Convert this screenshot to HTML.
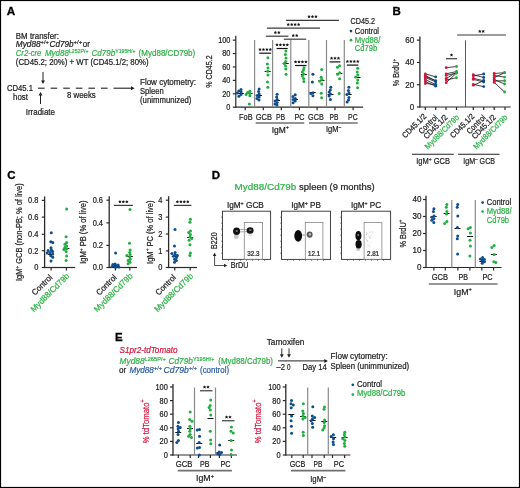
<!DOCTYPE html>
<html><head><meta charset="utf-8"><style>
html,body{margin:0;padding:0;background:#fff;}
svg{display:block;will-change:transform;}
text{font-family:"Liberation Sans", sans-serif;}
</style></head><body>
<svg width="520" height="488" viewBox="0 0 520 488" fill="#222" font-family='"Liberation Sans", sans-serif'>
<rect x="0.5" y="0.5" width="519" height="487" fill="#fff" stroke="#000" stroke-width="1.2"/>
<text transform="translate(6.80 14.80) scale(1.0200 1)" font-size="11.5" fill="#000" stroke="#000" stroke-width="0.3"><tspan font-weight="bold">A</tspan></text>
<text transform="translate(15.80 38.60) scale(0.9224 1)" font-size="8.6" stroke="#222" stroke-width="0.22"><tspan>BM transfer:</tspan></text>
<text transform="translate(15.80 47.20) scale(0.9607 1)" font-size="8.6" stroke="#222" stroke-width="0.22"><tspan font-style="italic">Myd88</tspan></text>
<text transform="translate(40.60 43.90) scale(0.9259 1)" font-size="6.2" stroke="#222" stroke-width="0.22"><tspan>+/+</tspan></text>
<text transform="translate(49.50 47.20) scale(0.9509 1)" font-size="8.6" stroke="#222" stroke-width="0.22"><tspan font-style="italic">Cd79b</tspan></text>
<text transform="translate(73.60 43.90) scale(0.9706 1)" font-size="6.2" stroke="#222" stroke-width="0.22"><tspan>+/+</tspan></text>
<text transform="translate(82.80 47.20) scale(0.9284 1)" font-size="8.6" stroke="#222" stroke-width="0.22"><tspan>or</tspan></text>
<text transform="translate(15.80 55.90) scale(0.8929 1)" font-size="8.6" fill="#2db246" stroke="#2db246" stroke-width="0.22"><tspan font-style="italic">Cr2-cre</tspan></text>
<text transform="translate(45.00 55.90) scale(0.9220 1)" font-size="8.6" fill="#2db246" stroke="#2db246" stroke-width="0.22"><tspan font-style="italic">Myd88</tspan></text>
<text transform="translate(68.80 52.60) scale(0.8465 1)" font-size="6.2" fill="#2db246" stroke="#2db246" stroke-width="0.22"><tspan>L252P/+</tspan></text>
<text transform="translate(91.50 55.90) scale(0.9391 1)" font-size="8.6" fill="#2db246" stroke="#2db246" stroke-width="0.22"><tspan font-style="italic">Cd79b</tspan></text>
<text transform="translate(115.30 52.60) scale(0.8312 1)" font-size="6.2" fill="#2db246" stroke="#2db246" stroke-width="0.22"><tspan>Y195H/+</tspan></text>
<text transform="translate(138.60 55.90) scale(0.9341 1)" font-size="8.6" fill="#2db246" stroke="#2db246" stroke-width="0.22"><tspan>(Myd88/CD79b)</tspan></text>
<text transform="translate(15.80 65.10) scale(0.9089 1)" font-size="8.6" stroke="#222" stroke-width="0.22"><tspan>(CD45.2; 20%) + WT (CD45.1/2; 80%)</tspan></text>
<line x1="43.00" y1="72.00" x2="43.00" y2="82.50" stroke="#222" stroke-width="1.0" />
<path d="M41.00,80.60 L43.00,84.00 L45.00,80.60 Z" fill="#222"/>
<line x1="40.50" y1="104.00" x2="40.50" y2="93.50" stroke="#222" stroke-width="1.0" />
<path d="M38.50,95.40 L40.50,92.00 L42.50,95.40 Z" fill="#222"/>
<text transform="translate(7.00 90.80) scale(0.8916 1)" font-size="8.6" stroke="#222" stroke-width="0.22"><tspan>CD45.1</tspan></text>
<text transform="translate(13.00 99.50) scale(0.9228 1)" font-size="8.6" stroke="#222" stroke-width="0.22"><tspan>host</tspan></text>
<line x1="38.00" y1="88.20" x2="44.60" y2="88.20" stroke="#222" stroke-width="1.1" />
<line x1="50.60" y1="88.20" x2="57.20" y2="88.20" stroke="#222" stroke-width="1.1" />
<line x1="63.20" y1="88.20" x2="69.80" y2="88.20" stroke="#222" stroke-width="1.1" />
<line x1="75.80" y1="88.20" x2="82.40" y2="88.20" stroke="#222" stroke-width="1.1" />
<line x1="88.40" y1="88.20" x2="95.00" y2="88.20" stroke="#222" stroke-width="1.1" />
<line x1="101.00" y1="88.20" x2="107.60" y2="88.20" stroke="#222" stroke-width="1.1" />
<line x1="113.50" y1="88.20" x2="133.10" y2="88.20" stroke="#222" stroke-width="1.1" />
<path d="M131.00,86.20 L134.60,88.20 L131.00,90.20 Z" fill="#222"/>
<text transform="translate(67.00 97.50) scale(0.9113 1)" font-size="8.6" stroke="#222" stroke-width="0.22"><tspan>8 weeks</tspan></text>
<text transform="translate(25.75 114.50) scale(0.9271 1)" font-size="8.6" stroke="#222" stroke-width="0.22"><tspan>Irradiate</tspan></text>
<text transform="translate(140.00 84.60) scale(0.9334 1)" font-size="8.6" stroke="#222" stroke-width="0.22"><tspan>Flow cytometry:</tspan></text>
<text transform="translate(140.00 94.00) scale(0.8869 1)" font-size="8.6" stroke="#222" stroke-width="0.22"><tspan>Spleen</tspan></text>
<text transform="translate(140.00 103.40) scale(0.9055 1)" font-size="8.6" stroke="#222" stroke-width="0.22"><tspan>(unimmunized)</tspan></text>
<line x1="235.80" y1="35.80" x2="235.80" y2="107.80" stroke="#2a2a2a" stroke-width="1.2" />
<line x1="232.80" y1="40.15" x2="235.80" y2="40.15" stroke="#2a2a2a" stroke-width="1.2" />
<text transform="translate(230.40 43.05) scale(0.8882 1)" font-size="8.3" text-anchor="end" stroke="#222" stroke-width="0.22"><tspan>100</tspan></text>
<line x1="232.80" y1="53.56" x2="235.80" y2="53.56" stroke="#2a2a2a" stroke-width="1.2" />
<text transform="translate(230.40 56.46) scale(0.8882 1)" font-size="8.3" text-anchor="end" stroke="#222" stroke-width="0.22"><tspan>80</tspan></text>
<line x1="232.80" y1="66.97" x2="235.80" y2="66.97" stroke="#2a2a2a" stroke-width="1.2" />
<text transform="translate(230.40 69.87) scale(0.8882 1)" font-size="8.3" text-anchor="end" stroke="#222" stroke-width="0.22"><tspan>60</tspan></text>
<line x1="232.80" y1="80.38" x2="235.80" y2="80.38" stroke="#2a2a2a" stroke-width="1.2" />
<text transform="translate(230.40 83.28) scale(0.8882 1)" font-size="8.3" text-anchor="end" stroke="#222" stroke-width="0.22"><tspan>40</tspan></text>
<line x1="232.80" y1="93.79" x2="235.80" y2="93.79" stroke="#2a2a2a" stroke-width="1.2" />
<text transform="translate(230.40 96.69) scale(0.8882 1)" font-size="8.3" text-anchor="end" stroke="#222" stroke-width="0.22"><tspan>20</tspan></text>
<line x1="232.80" y1="107.20" x2="235.80" y2="107.20" stroke="#2a2a2a" stroke-width="1.2" />
<text transform="translate(230.40 110.10) scale(0.8882 1)" font-size="8.3" text-anchor="end" stroke="#222" stroke-width="0.22"><tspan>0</tspan></text>
<line x1="235.20" y1="107.20" x2="363.10" y2="107.20" stroke="#2a2a2a" stroke-width="1.2" />
<line x1="245.20" y1="107.20" x2="245.20" y2="110.20" stroke="#2a2a2a" stroke-width="1.2" />
<line x1="263.30" y1="107.20" x2="263.30" y2="110.20" stroke="#2a2a2a" stroke-width="1.2" />
<line x1="281.30" y1="107.20" x2="281.30" y2="110.20" stroke="#2a2a2a" stroke-width="1.2" />
<line x1="299.40" y1="107.20" x2="299.40" y2="110.20" stroke="#2a2a2a" stroke-width="1.2" />
<line x1="317.10" y1="107.20" x2="317.10" y2="110.20" stroke="#2a2a2a" stroke-width="1.2" />
<line x1="335.00" y1="107.20" x2="335.00" y2="110.20" stroke="#2a2a2a" stroke-width="1.2" />
<line x1="353.10" y1="107.20" x2="353.10" y2="110.20" stroke="#2a2a2a" stroke-width="1.2" />
<line x1="254.60" y1="40.00" x2="254.60" y2="107.20" stroke="#8a8a8a" stroke-width="1.2" />
<line x1="272.60" y1="40.00" x2="272.60" y2="107.20" stroke="#8a8a8a" stroke-width="1.2" />
<line x1="290.80" y1="40.00" x2="290.80" y2="107.20" stroke="#8a8a8a" stroke-width="1.2" />
<line x1="308.80" y1="40.00" x2="308.80" y2="107.20" stroke="#8a8a8a" stroke-width="1.2" />
<line x1="326.50" y1="40.00" x2="326.50" y2="107.20" stroke="#8a8a8a" stroke-width="1.2" />
<line x1="344.30" y1="40.00" x2="344.30" y2="107.20" stroke="#8a8a8a" stroke-width="1.2" />
<text transform="translate(211.70 71.60) rotate(-90) scale(0.7644 1)" font-size="9.3" text-anchor="middle" stroke="#222" stroke-width="0.22"><tspan>% CD45.2</tspan></text>
<text transform="translate(239.10 119.70) scale(0.8559 1)" font-size="8.6" stroke="#222" stroke-width="0.22"><tspan>FoB</tspan></text>
<text transform="translate(255.70 119.70) scale(0.8693 1)" font-size="8.6" stroke="#222" stroke-width="0.22"><tspan>GCB</tspan></text>
<text transform="translate(276.00 119.70) scale(0.8019 1)" font-size="8.6" stroke="#222" stroke-width="0.22"><tspan>PB</tspan></text>
<text transform="translate(294.40 119.70) scale(0.8370 1)" font-size="8.6" stroke="#222" stroke-width="0.22"><tspan>PC</tspan></text>
<text transform="translate(308.10 119.70) scale(0.8398 1)" font-size="8.6" stroke="#222" stroke-width="0.22"><tspan>GCB</tspan></text>
<text transform="translate(329.60 119.70) scale(0.7757 1)" font-size="8.6" stroke="#222" stroke-width="0.22"><tspan>PB</tspan></text>
<text transform="translate(348.10 119.70) scale(0.8077 1)" font-size="8.6" stroke="#222" stroke-width="0.22"><tspan>PC</tspan></text>
<line x1="255.70" y1="123.00" x2="304.20" y2="123.00" stroke="#707070" stroke-width="1.7" />
<line x1="309.00" y1="123.00" x2="357.75" y2="123.00" stroke="#707070" stroke-width="1.7" />
<text transform="translate(271.70 132.60) scale(0.9365 1)" font-size="9" stroke="#222" stroke-width="0.22"><tspan>IgM</tspan><tspan font-size="5.76" dy="-3.24">+</tspan></text>
<text transform="translate(326.00 132.40) scale(0.8349 1)" font-size="9" stroke="#222" stroke-width="0.22"><tspan>IgM</tspan><tspan font-size="5.76" dy="-3.24">–</tspan></text>
<line x1="237.80" y1="93.50" x2="243.80" y2="93.50" stroke="#111" stroke-width="1.0" />
<circle cx="241.00" cy="89.60" r="1.5" fill="#0e4c8e"/>
<circle cx="238.80" cy="91.00" r="1.5" fill="#0e4c8e"/>
<circle cx="241.10" cy="92.00" r="1.5" fill="#0e4c8e"/>
<circle cx="237.30" cy="93.00" r="1.5" fill="#0e4c8e"/>
<circle cx="241.05" cy="94.50" r="1.5" fill="#0e4c8e"/>
<circle cx="238.90" cy="96.20" r="1.5" fill="#0e4c8e"/>
<line x1="246.60" y1="93.50" x2="252.60" y2="93.50" stroke="#111" stroke-width="1.0" />
<circle cx="249.80" cy="91.20" r="1.5" fill="#1fae3f"/>
<circle cx="247.60" cy="92.50" r="1.5" fill="#1fae3f"/>
<circle cx="249.90" cy="93.50" r="1.5" fill="#1fae3f"/>
<circle cx="246.10" cy="94.50" r="1.5" fill="#1fae3f"/>
<circle cx="249.85" cy="95.80" r="1.5" fill="#1fae3f"/>
<circle cx="249.40" cy="103.90" r="1.5" fill="#1fae3f"/>
<line x1="255.90" y1="95.50" x2="261.90" y2="95.50" stroke="#111" stroke-width="1.0" />
<circle cx="259.10" cy="89.00" r="1.5" fill="#0e4c8e"/>
<circle cx="258.60" cy="91.50" r="1.5" fill="#0e4c8e"/>
<circle cx="259.20" cy="94.00" r="1.5" fill="#0e4c8e"/>
<circle cx="257.10" cy="95.50" r="1.5" fill="#0e4c8e"/>
<circle cx="259.15" cy="97.00" r="1.5" fill="#0e4c8e"/>
<circle cx="257.00" cy="98.50" r="1.5" fill="#0e4c8e"/>
<circle cx="259.00" cy="100.00" r="1.5" fill="#0e4c8e"/>
<line x1="264.70" y1="71.50" x2="270.70" y2="71.50" stroke="#111" stroke-width="1.0" />
<circle cx="267.90" cy="57.80" r="1.5" fill="#1fae3f"/>
<circle cx="267.40" cy="63.90" r="1.5" fill="#1fae3f"/>
<circle cx="268.00" cy="68.00" r="1.5" fill="#1fae3f"/>
<circle cx="267.60" cy="71.20" r="1.5" fill="#1fae3f"/>
<circle cx="267.95" cy="75.00" r="1.5" fill="#1fae3f"/>
<circle cx="267.50" cy="81.90" r="1.5" fill="#1fae3f"/>
<circle cx="267.80" cy="87.30" r="1.5" fill="#1fae3f"/>
<line x1="273.90" y1="100.50" x2="279.90" y2="100.50" stroke="#111" stroke-width="1.0" />
<circle cx="277.10" cy="94.20" r="1.5" fill="#0e4c8e"/>
<circle cx="276.60" cy="97.00" r="1.5" fill="#0e4c8e"/>
<circle cx="277.20" cy="99.50" r="1.5" fill="#0e4c8e"/>
<circle cx="275.10" cy="101.00" r="1.5" fill="#0e4c8e"/>
<circle cx="277.15" cy="102.50" r="1.5" fill="#0e4c8e"/>
<circle cx="275.00" cy="104.00" r="1.5" fill="#0e4c8e"/>
<circle cx="277.00" cy="105.00" r="1.5" fill="#0e4c8e"/>
<line x1="282.70" y1="63.50" x2="288.70" y2="63.50" stroke="#111" stroke-width="1.0" />
<circle cx="285.90" cy="51.00" r="1.5" fill="#1fae3f"/>
<circle cx="285.40" cy="54.50" r="1.5" fill="#1fae3f"/>
<circle cx="286.00" cy="58.00" r="1.5" fill="#1fae3f"/>
<circle cx="285.60" cy="61.50" r="1.5" fill="#1fae3f"/>
<circle cx="284.25" cy="63.50" r="1.5" fill="#1fae3f"/>
<circle cx="285.50" cy="66.00" r="1.5" fill="#1fae3f"/>
<circle cx="285.80" cy="69.00" r="1.5" fill="#1fae3f"/>
<circle cx="286.00" cy="74.20" r="1.5" fill="#1fae3f"/>
<line x1="292.00" y1="99.50" x2="298.00" y2="99.50" stroke="#111" stroke-width="1.0" />
<circle cx="295.20" cy="94.70" r="1.5" fill="#0e4c8e"/>
<circle cx="293.00" cy="96.50" r="1.5" fill="#0e4c8e"/>
<circle cx="295.30" cy="98.50" r="1.5" fill="#0e4c8e"/>
<circle cx="293.20" cy="99.50" r="1.5" fill="#0e4c8e"/>
<circle cx="295.25" cy="101.00" r="1.5" fill="#0e4c8e"/>
<circle cx="293.10" cy="102.70" r="1.5" fill="#0e4c8e"/>
<line x1="300.80" y1="74.50" x2="306.80" y2="74.50" stroke="#111" stroke-width="1.0" />
<circle cx="304.00" cy="67.80" r="1.5" fill="#1fae3f"/>
<circle cx="303.50" cy="70.00" r="1.5" fill="#1fae3f"/>
<circle cx="302.40" cy="72.00" r="1.5" fill="#1fae3f"/>
<circle cx="303.70" cy="74.00" r="1.5" fill="#1fae3f"/>
<circle cx="302.35" cy="76.00" r="1.5" fill="#1fae3f"/>
<circle cx="303.60" cy="78.50" r="1.5" fill="#1fae3f"/>
<circle cx="303.90" cy="81.60" r="1.5" fill="#1fae3f"/>
<line x1="309.70" y1="92.50" x2="315.70" y2="92.50" stroke="#111" stroke-width="1.0" />
<circle cx="312.90" cy="74.20" r="1.5" fill="#0e4c8e"/>
<circle cx="312.40" cy="82.00" r="1.5" fill="#0e4c8e"/>
<circle cx="313.00" cy="92.70" r="1.5" fill="#0e4c8e"/>
<circle cx="310.90" cy="93.50" r="1.5" fill="#0e4c8e"/>
<circle cx="312.95" cy="95.80" r="1.5" fill="#0e4c8e"/>
<line x1="318.50" y1="80.50" x2="324.50" y2="80.50" stroke="#111" stroke-width="1.0" />
<circle cx="321.70" cy="69.60" r="1.5" fill="#1fae3f"/>
<circle cx="321.20" cy="77.30" r="1.5" fill="#1fae3f"/>
<circle cx="321.80" cy="79.60" r="1.5" fill="#1fae3f"/>
<circle cx="319.70" cy="81.20" r="1.5" fill="#1fae3f"/>
<circle cx="321.75" cy="84.00" r="1.5" fill="#1fae3f"/>
<circle cx="321.30" cy="93.20" r="1.5" fill="#1fae3f"/>
<circle cx="321.60" cy="97.80" r="1.5" fill="#1fae3f"/>
<line x1="327.60" y1="94.50" x2="333.60" y2="94.50" stroke="#111" stroke-width="1.0" />
<circle cx="330.80" cy="87.30" r="1.5" fill="#0e4c8e"/>
<circle cx="330.30" cy="90.00" r="1.5" fill="#0e4c8e"/>
<circle cx="329.20" cy="92.00" r="1.5" fill="#0e4c8e"/>
<circle cx="330.50" cy="94.00" r="1.5" fill="#0e4c8e"/>
<circle cx="329.15" cy="96.00" r="1.5" fill="#0e4c8e"/>
<circle cx="330.40" cy="99.60" r="1.5" fill="#0e4c8e"/>
<line x1="336.40" y1="73.50" x2="342.40" y2="73.50" stroke="#111" stroke-width="1.0" />
<circle cx="339.60" cy="65.80" r="1.5" fill="#1fae3f"/>
<circle cx="337.40" cy="67.30" r="1.5" fill="#1fae3f"/>
<circle cx="339.70" cy="72.70" r="1.5" fill="#1fae3f"/>
<circle cx="337.60" cy="74.20" r="1.5" fill="#1fae3f"/>
<circle cx="339.65" cy="78.80" r="1.5" fill="#1fae3f"/>
<circle cx="339.20" cy="93.50" r="1.5" fill="#1fae3f"/>
<line x1="345.70" y1="94.50" x2="351.70" y2="94.50" stroke="#111" stroke-width="1.0" />
<circle cx="348.90" cy="87.30" r="1.5" fill="#0e4c8e"/>
<circle cx="348.40" cy="90.50" r="1.5" fill="#0e4c8e"/>
<circle cx="349.00" cy="93.00" r="1.5" fill="#0e4c8e"/>
<circle cx="346.90" cy="94.50" r="1.5" fill="#0e4c8e"/>
<circle cx="348.95" cy="97.50" r="1.5" fill="#0e4c8e"/>
<circle cx="348.50" cy="100.00" r="1.5" fill="#0e4c8e"/>
<circle cx="347.10" cy="102.00" r="1.5" fill="#0e4c8e"/>
<line x1="354.50" y1="77.50" x2="360.50" y2="77.50" stroke="#111" stroke-width="1.0" />
<circle cx="357.70" cy="68.30" r="1.5" fill="#1fae3f"/>
<circle cx="357.20" cy="72.00" r="1.5" fill="#1fae3f"/>
<circle cx="357.80" cy="75.00" r="1.5" fill="#1fae3f"/>
<circle cx="355.70" cy="77.00" r="1.5" fill="#1fae3f"/>
<circle cx="357.75" cy="80.00" r="1.5" fill="#1fae3f"/>
<circle cx="357.30" cy="83.00" r="1.5" fill="#1fae3f"/>
<circle cx="357.60" cy="87.70" r="1.5" fill="#1fae3f"/>
<line x1="286.10" y1="20.30" x2="338.90" y2="20.30" stroke="#3a3a3a" stroke-width="1.2" />
<path d="M309.05,16.70L309.05,15.60M309.05,16.70L310.10,16.36M309.05,16.70L309.70,17.59M309.05,16.70L308.40,17.59M309.05,16.70L308.00,16.36" stroke="#222" stroke-width="0.75" stroke-linecap="round" fill="none"/><circle cx="309.05" cy="16.70" r="0.85" fill="#1a1a1a"/>
<path d="M312.50,16.70L312.50,15.60M312.50,16.70L313.55,16.36M312.50,16.70L313.15,17.59M312.50,16.70L311.85,17.59M312.50,16.70L311.45,16.36" stroke="#222" stroke-width="0.75" stroke-linecap="round" fill="none"/><circle cx="312.50" cy="16.70" r="0.85" fill="#1a1a1a"/>
<path d="M315.95,16.70L315.95,15.60M315.95,16.70L317.00,16.36M315.95,16.70L316.60,17.59M315.95,16.70L315.30,17.59M315.95,16.70L314.90,16.36" stroke="#222" stroke-width="0.75" stroke-linecap="round" fill="none"/><circle cx="315.95" cy="16.70" r="0.85" fill="#1a1a1a"/>
<line x1="266.90" y1="28.20" x2="320.00" y2="28.20" stroke="#3a3a3a" stroke-width="1.2" />
<path d="M288.27,24.60L288.27,23.50M288.27,24.60L289.32,24.26M288.27,24.60L288.92,25.49M288.27,24.60L287.63,25.49M288.27,24.60L287.23,24.26" stroke="#222" stroke-width="0.75" stroke-linecap="round" fill="none"/><circle cx="288.27" cy="24.60" r="0.85" fill="#1a1a1a"/>
<path d="M291.72,24.60L291.72,23.50M291.72,24.60L292.77,24.26M291.72,24.60L292.37,25.49M291.72,24.60L291.08,25.49M291.72,24.60L290.68,24.26" stroke="#222" stroke-width="0.75" stroke-linecap="round" fill="none"/><circle cx="291.72" cy="24.60" r="0.85" fill="#1a1a1a"/>
<path d="M295.17,24.60L295.17,23.50M295.17,24.60L296.22,24.26M295.17,24.60L295.82,25.49M295.17,24.60L294.53,25.49M295.17,24.60L294.13,24.26" stroke="#222" stroke-width="0.75" stroke-linecap="round" fill="none"/><circle cx="295.17" cy="24.60" r="0.85" fill="#1a1a1a"/>
<path d="M298.62,24.60L298.62,23.50M298.62,24.60L299.67,24.26M298.62,24.60L299.27,25.49M298.62,24.60L297.98,25.49M298.62,24.60L297.58,24.26" stroke="#222" stroke-width="0.75" stroke-linecap="round" fill="none"/><circle cx="298.62" cy="24.60" r="0.85" fill="#1a1a1a"/>
<line x1="265.80" y1="36.20" x2="288.40" y2="36.20" stroke="#3a3a3a" stroke-width="1.2" />
<path d="M275.38,32.60L275.38,31.50M275.38,32.60L276.42,32.26M275.38,32.60L276.02,33.49M275.38,32.60L274.73,33.49M275.38,32.60L274.33,32.26" stroke="#222" stroke-width="0.75" stroke-linecap="round" fill="none"/><circle cx="275.38" cy="32.60" r="0.85" fill="#1a1a1a"/>
<path d="M278.82,32.60L278.82,31.50M278.82,32.60L279.87,32.26M278.82,32.60L279.47,33.49M278.82,32.60L278.18,33.49M278.82,32.60L277.78,32.26" stroke="#222" stroke-width="0.75" stroke-linecap="round" fill="none"/><circle cx="278.82" cy="32.60" r="0.85" fill="#1a1a1a"/>
<line x1="283.80" y1="39.20" x2="306.20" y2="39.20" stroke="#3a3a3a" stroke-width="1.2" />
<path d="M293.27,35.60L293.27,34.50M293.27,35.60L294.32,35.26M293.27,35.60L293.92,36.49M293.27,35.60L292.63,36.49M293.27,35.60L292.23,35.26" stroke="#222" stroke-width="0.75" stroke-linecap="round" fill="none"/><circle cx="293.27" cy="35.60" r="0.85" fill="#1a1a1a"/>
<path d="M296.72,35.60L296.72,34.50M296.72,35.60L297.77,35.26M296.72,35.60L297.37,36.49M296.72,35.60L296.08,36.49M296.72,35.60L295.68,35.26" stroke="#222" stroke-width="0.75" stroke-linecap="round" fill="none"/><circle cx="296.72" cy="35.60" r="0.85" fill="#1a1a1a"/>
<line x1="259.20" y1="53.20" x2="271.20" y2="53.20" stroke="#111" stroke-width="1.2" />
<path d="M260.02,49.60L260.02,48.50M260.02,49.60L261.07,49.26M260.02,49.60L260.67,50.49M260.02,49.60L259.38,50.49M260.02,49.60L258.98,49.26" stroke="#222" stroke-width="0.75" stroke-linecap="round" fill="none"/><circle cx="260.02" cy="49.60" r="0.85" fill="#1a1a1a"/>
<path d="M263.47,49.60L263.47,48.50M263.47,49.60L264.52,49.26M263.47,49.60L264.12,50.49M263.47,49.60L262.83,50.49M263.47,49.60L262.43,49.26" stroke="#222" stroke-width="0.75" stroke-linecap="round" fill="none"/><circle cx="263.47" cy="49.60" r="0.85" fill="#1a1a1a"/>
<path d="M266.92,49.60L266.92,48.50M266.92,49.60L267.97,49.26M266.92,49.60L267.57,50.49M266.92,49.60L266.28,50.49M266.92,49.60L265.88,49.26" stroke="#222" stroke-width="0.75" stroke-linecap="round" fill="none"/><circle cx="266.92" cy="49.60" r="0.85" fill="#1a1a1a"/>
<path d="M270.38,49.60L270.38,48.50M270.38,49.60L271.42,49.26M270.38,49.60L271.02,50.49M270.38,49.60L269.73,50.49M270.38,49.60L269.33,49.26" stroke="#222" stroke-width="0.75" stroke-linecap="round" fill="none"/><circle cx="270.38" cy="49.60" r="0.85" fill="#1a1a1a"/>
<line x1="276.60" y1="48.50" x2="287.70" y2="48.50" stroke="#111" stroke-width="1.2" />
<path d="M276.97,44.90L276.97,43.80M276.97,44.90L278.02,44.56M276.97,44.90L277.62,45.79M276.97,44.90L276.33,45.79M276.97,44.90L275.93,44.56" stroke="#222" stroke-width="0.75" stroke-linecap="round" fill="none"/><circle cx="276.97" cy="44.90" r="0.85" fill="#1a1a1a"/>
<path d="M280.42,44.90L280.42,43.80M280.42,44.90L281.47,44.56M280.42,44.90L281.07,45.79M280.42,44.90L279.78,45.79M280.42,44.90L279.38,44.56" stroke="#222" stroke-width="0.75" stroke-linecap="round" fill="none"/><circle cx="280.42" cy="44.90" r="0.85" fill="#1a1a1a"/>
<path d="M283.87,44.90L283.87,43.80M283.87,44.90L284.92,44.56M283.87,44.90L284.52,45.79M283.87,44.90L283.23,45.79M283.87,44.90L282.83,44.56" stroke="#222" stroke-width="0.75" stroke-linecap="round" fill="none"/><circle cx="283.87" cy="44.90" r="0.85" fill="#1a1a1a"/>
<path d="M287.32,44.90L287.32,43.80M287.32,44.90L288.37,44.56M287.32,44.90L287.97,45.79M287.32,44.90L286.68,45.79M287.32,44.90L286.28,44.56" stroke="#222" stroke-width="0.75" stroke-linecap="round" fill="none"/><circle cx="287.32" cy="44.90" r="0.85" fill="#1a1a1a"/>
<line x1="295.00" y1="65.50" x2="306.50" y2="65.50" stroke="#111" stroke-width="1.2" />
<path d="M295.57,61.90L295.57,60.80M295.57,61.90L296.62,61.56M295.57,61.90L296.22,62.79M295.57,61.90L294.93,62.79M295.57,61.90L294.53,61.56" stroke="#222" stroke-width="0.75" stroke-linecap="round" fill="none"/><circle cx="295.57" cy="61.90" r="0.85" fill="#1a1a1a"/>
<path d="M299.02,61.90L299.02,60.80M299.02,61.90L300.07,61.56M299.02,61.90L299.67,62.79M299.02,61.90L298.38,62.79M299.02,61.90L297.98,61.56" stroke="#222" stroke-width="0.75" stroke-linecap="round" fill="none"/><circle cx="299.02" cy="61.90" r="0.85" fill="#1a1a1a"/>
<path d="M302.47,61.90L302.47,60.80M302.47,61.90L303.52,61.56M302.47,61.90L303.12,62.79M302.47,61.90L301.83,62.79M302.47,61.90L301.43,61.56" stroke="#222" stroke-width="0.75" stroke-linecap="round" fill="none"/><circle cx="302.47" cy="61.90" r="0.85" fill="#1a1a1a"/>
<path d="M305.93,61.90L305.93,60.80M305.93,61.90L306.97,61.56M305.93,61.90L306.57,62.79M305.93,61.90L305.28,62.79M305.93,61.90L304.88,61.56" stroke="#222" stroke-width="0.75" stroke-linecap="round" fill="none"/><circle cx="305.93" cy="61.90" r="0.85" fill="#1a1a1a"/>
<line x1="329.60" y1="61.90" x2="340.40" y2="61.90" stroke="#111" stroke-width="1.2" />
<path d="M331.55,58.30L331.55,57.20M331.55,58.30L332.60,57.96M331.55,58.30L332.20,59.19M331.55,58.30L330.90,59.19M331.55,58.30L330.50,57.96" stroke="#222" stroke-width="0.75" stroke-linecap="round" fill="none"/><circle cx="331.55" cy="58.30" r="0.85" fill="#1a1a1a"/>
<path d="M335.00,58.30L335.00,57.20M335.00,58.30L336.05,57.96M335.00,58.30L335.65,59.19M335.00,58.30L334.35,59.19M335.00,58.30L333.95,57.96" stroke="#222" stroke-width="0.75" stroke-linecap="round" fill="none"/><circle cx="335.00" cy="58.30" r="0.85" fill="#1a1a1a"/>
<path d="M338.45,58.30L338.45,57.20M338.45,58.30L339.50,57.96M338.45,58.30L339.10,59.19M338.45,58.30L337.80,59.19M338.45,58.30L337.40,57.96" stroke="#222" stroke-width="0.75" stroke-linecap="round" fill="none"/><circle cx="338.45" cy="58.30" r="0.85" fill="#1a1a1a"/>
<line x1="346.90" y1="65.10" x2="358.30" y2="65.10" stroke="#111" stroke-width="1.2" />
<path d="M347.43,61.50L347.43,60.40M347.43,61.50L348.47,61.16M347.43,61.50L348.07,62.39M347.43,61.50L346.78,62.39M347.43,61.50L346.38,61.16" stroke="#222" stroke-width="0.75" stroke-linecap="round" fill="none"/><circle cx="347.43" cy="61.50" r="0.85" fill="#1a1a1a"/>
<path d="M350.88,61.50L350.88,60.40M350.88,61.50L351.92,61.16M350.88,61.50L351.52,62.39M350.88,61.50L350.23,62.39M350.88,61.50L349.83,61.16" stroke="#222" stroke-width="0.75" stroke-linecap="round" fill="none"/><circle cx="350.88" cy="61.50" r="0.85" fill="#1a1a1a"/>
<path d="M354.32,61.50L354.32,60.40M354.32,61.50L355.37,61.16M354.32,61.50L354.97,62.39M354.32,61.50L353.68,62.39M354.32,61.50L353.28,61.16" stroke="#222" stroke-width="0.75" stroke-linecap="round" fill="none"/><circle cx="354.32" cy="61.50" r="0.85" fill="#1a1a1a"/>
<path d="M357.78,61.50L357.78,60.40M357.78,61.50L358.82,61.16M357.78,61.50L358.42,62.39M357.78,61.50L357.13,62.39M357.78,61.50L356.73,61.16" stroke="#222" stroke-width="0.75" stroke-linecap="round" fill="none"/><circle cx="357.78" cy="61.50" r="0.85" fill="#1a1a1a"/>
<text transform="translate(350.60 23.80) scale(0.8436 1)" font-size="8.6" stroke="#222" stroke-width="0.22"><tspan>CD45.2</tspan></text>
<circle cx="351.00" cy="31.10" r="1.35" fill="#0e4c8e"/>
<text transform="translate(354.80 33.65) scale(0.8729 1)" font-size="8.6" stroke="#222" stroke-width="0.22"><tspan>Control</tspan></text>
<circle cx="351.00" cy="40.20" r="1.35" fill="#1fae3f"/>
<text transform="translate(354.80 42.65) scale(0.9077 1)" font-size="8.6" fill="#2db246" stroke="#2db246" stroke-width="0.22"><tspan>Myd88/</tspan></text>
<text transform="translate(354.80 51.00) scale(0.8839 1)" font-size="8.6" fill="#2db246" stroke="#2db246" stroke-width="0.22"><tspan>Cd79b</tspan></text>
<text transform="translate(392.60 14.60)" font-size="11.5" fill="#000" stroke="#000" stroke-width="0.3"><tspan font-weight="bold">B</tspan></text>
<line x1="419.90" y1="36.60" x2="419.90" y2="107.60" stroke="#2a2a2a" stroke-width="1.3" />
<line x1="416.90" y1="40.16" x2="419.90" y2="40.16" stroke="#2a2a2a" stroke-width="1.2" />
<text transform="translate(414.20 43.06) scale(0.9748 1)" font-size="8.3" text-anchor="end" stroke="#222" stroke-width="0.22"><tspan>60</tspan></text>
<line x1="416.90" y1="62.44" x2="419.90" y2="62.44" stroke="#2a2a2a" stroke-width="1.2" />
<text transform="translate(414.20 65.34) scale(0.9748 1)" font-size="8.3" text-anchor="end" stroke="#222" stroke-width="0.22"><tspan>40</tspan></text>
<line x1="416.90" y1="84.72" x2="419.90" y2="84.72" stroke="#2a2a2a" stroke-width="1.2" />
<text transform="translate(414.20 87.62) scale(0.9748 1)" font-size="8.3" text-anchor="end" stroke="#222" stroke-width="0.22"><tspan>20</tspan></text>
<line x1="416.90" y1="107.00" x2="419.90" y2="107.00" stroke="#2a2a2a" stroke-width="1.2" />
<text transform="translate(414.20 109.90) scale(0.9748 1)" font-size="8.3" text-anchor="end" stroke="#222" stroke-width="0.22"><tspan>0</tspan></text>
<line x1="419.30" y1="107.00" x2="510.70" y2="107.00" stroke="#2a2a2a" stroke-width="1.2" />
<line x1="425.30" y1="107.00" x2="425.30" y2="110.00" stroke="#2a2a2a" stroke-width="1.2" />
<line x1="435.70" y1="107.00" x2="435.70" y2="110.00" stroke="#2a2a2a" stroke-width="1.2" />
<line x1="446.00" y1="107.00" x2="446.00" y2="110.00" stroke="#2a2a2a" stroke-width="1.2" />
<line x1="456.50" y1="107.00" x2="456.50" y2="110.00" stroke="#2a2a2a" stroke-width="1.2" />
<line x1="473.30" y1="107.00" x2="473.30" y2="110.00" stroke="#2a2a2a" stroke-width="1.2" />
<line x1="483.70" y1="107.00" x2="483.70" y2="110.00" stroke="#2a2a2a" stroke-width="1.2" />
<line x1="494.20" y1="107.00" x2="494.20" y2="110.00" stroke="#2a2a2a" stroke-width="1.2" />
<line x1="505.00" y1="107.00" x2="505.00" y2="110.00" stroke="#2a2a2a" stroke-width="1.2" />
<line x1="465.50" y1="40.30" x2="465.50" y2="107.00" stroke="#444" stroke-width="0.9" />
<text transform="translate(399.30 72.50) rotate(-90) scale(0.7686 1)" font-size="9.3" text-anchor="middle" stroke="#222" stroke-width="0.22"><tspan>% BrdU</tspan><tspan font-size="5.95" dy="-3.35">+</tspan></text>
<line x1="446.00" y1="58.70" x2="457.00" y2="58.70" stroke="#3a3a3a" stroke-width="1.2" />
<path d="M451.50,55.10L451.50,54.00M451.50,55.10L452.55,54.76M451.50,55.10L452.15,55.99M451.50,55.10L450.85,55.99M451.50,55.10L450.45,54.76" stroke="#222" stroke-width="0.75" stroke-linecap="round" fill="none"/><circle cx="451.50" cy="55.10" r="0.85" fill="#1a1a1a"/>
<line x1="457.10" y1="35.00" x2="505.90" y2="35.00" stroke="#3a3a3a" stroke-width="1.2" />
<path d="M479.77,31.40L479.77,30.30M479.77,31.40L480.82,31.06M479.77,31.40L480.42,32.29M479.77,31.40L479.13,32.29M479.77,31.40L478.73,31.06" stroke="#222" stroke-width="0.75" stroke-linecap="round" fill="none"/><circle cx="479.77" cy="31.40" r="0.85" fill="#1a1a1a"/>
<path d="M483.22,31.40L483.22,30.30M483.22,31.40L484.27,31.06M483.22,31.40L483.87,32.29M483.22,31.40L482.58,32.29M483.22,31.40L482.18,31.06" stroke="#222" stroke-width="0.75" stroke-linecap="round" fill="none"/><circle cx="483.22" cy="31.40" r="0.85" fill="#1a1a1a"/>
<line x1="425.30" y1="73.80" x2="435.70" y2="76.90" stroke="#111" stroke-width="0.8" />
<line x1="425.30" y1="75.50" x2="435.70" y2="80.80" stroke="#111" stroke-width="0.8" />
<line x1="425.30" y1="77.50" x2="435.70" y2="81.90" stroke="#111" stroke-width="0.8" />
<line x1="425.30" y1="79.50" x2="435.70" y2="84.60" stroke="#111" stroke-width="0.8" />
<line x1="425.30" y1="81.50" x2="435.70" y2="86.20" stroke="#111" stroke-width="0.8" />
<line x1="425.30" y1="83.50" x2="435.70" y2="84.60" stroke="#111" stroke-width="0.8" />
<line x1="425.30" y1="76.50" x2="435.70" y2="80.80" stroke="#111" stroke-width="0.8" />
<circle cx="425.30" cy="73.80" r="1.4" fill="#d3143c"/>
<circle cx="435.70" cy="76.90" r="1.4" fill="#0e4c8e"/>
<circle cx="425.30" cy="75.50" r="1.4" fill="#d3143c"/>
<circle cx="435.70" cy="80.80" r="1.4" fill="#0e4c8e"/>
<circle cx="425.30" cy="77.50" r="1.4" fill="#d3143c"/>
<circle cx="435.70" cy="81.90" r="1.4" fill="#0e4c8e"/>
<circle cx="425.30" cy="79.50" r="1.4" fill="#d3143c"/>
<circle cx="435.70" cy="84.60" r="1.4" fill="#0e4c8e"/>
<circle cx="425.30" cy="81.50" r="1.4" fill="#d3143c"/>
<circle cx="435.70" cy="86.20" r="1.4" fill="#0e4c8e"/>
<circle cx="425.30" cy="83.50" r="1.4" fill="#d3143c"/>
<circle cx="435.70" cy="84.60" r="1.4" fill="#0e4c8e"/>
<circle cx="425.30" cy="76.50" r="1.4" fill="#d3143c"/>
<circle cx="435.70" cy="80.80" r="1.4" fill="#0e4c8e"/>
<line x1="446.20" y1="67.70" x2="456.50" y2="66.50" stroke="#111" stroke-width="0.8" />
<line x1="446.20" y1="73.80" x2="456.50" y2="71.50" stroke="#111" stroke-width="0.8" />
<line x1="446.20" y1="75.40" x2="456.50" y2="73.10" stroke="#111" stroke-width="0.8" />
<line x1="446.20" y1="78.50" x2="456.50" y2="72.30" stroke="#111" stroke-width="0.8" />
<line x1="446.20" y1="80.00" x2="456.50" y2="77.70" stroke="#111" stroke-width="0.8" />
<line x1="446.20" y1="82.70" x2="456.50" y2="73.10" stroke="#111" stroke-width="0.8" />
<circle cx="446.20" cy="67.70" r="1.4" fill="#d3143c"/>
<circle cx="456.50" cy="66.50" r="1.4" fill="#1fae3f"/>
<circle cx="446.20" cy="73.80" r="1.4" fill="#d3143c"/>
<circle cx="456.50" cy="71.50" r="1.4" fill="#1fae3f"/>
<circle cx="446.20" cy="75.40" r="1.4" fill="#d3143c"/>
<circle cx="456.50" cy="73.10" r="1.4" fill="#1fae3f"/>
<circle cx="446.20" cy="78.50" r="1.4" fill="#d3143c"/>
<circle cx="456.50" cy="72.30" r="1.4" fill="#1fae3f"/>
<circle cx="446.20" cy="80.00" r="1.4" fill="#d3143c"/>
<circle cx="456.50" cy="77.70" r="1.4" fill="#1fae3f"/>
<circle cx="446.20" cy="82.70" r="1.4" fill="#d3143c"/>
<circle cx="456.50" cy="73.10" r="1.4" fill="#1fae3f"/>
<line x1="473.30" y1="74.70" x2="483.70" y2="77.50" stroke="#111" stroke-width="0.8" />
<line x1="473.30" y1="75.90" x2="483.70" y2="74.00" stroke="#111" stroke-width="0.8" />
<line x1="473.30" y1="78.30" x2="483.70" y2="80.75" stroke="#111" stroke-width="0.8" />
<line x1="473.30" y1="79.40" x2="483.70" y2="82.00" stroke="#111" stroke-width="0.8" />
<line x1="473.30" y1="84.40" x2="483.70" y2="86.60" stroke="#111" stroke-width="0.8" />
<line x1="473.30" y1="85.20" x2="483.70" y2="80.75" stroke="#111" stroke-width="0.8" />
<circle cx="473.30" cy="74.70" r="1.4" fill="#d3143c"/>
<circle cx="483.70" cy="77.50" r="1.4" fill="#0e4c8e"/>
<circle cx="473.30" cy="75.90" r="1.4" fill="#d3143c"/>
<circle cx="483.70" cy="74.00" r="1.4" fill="#0e4c8e"/>
<circle cx="473.30" cy="78.30" r="1.4" fill="#d3143c"/>
<circle cx="483.70" cy="80.75" r="1.4" fill="#0e4c8e"/>
<circle cx="473.30" cy="79.40" r="1.4" fill="#d3143c"/>
<circle cx="483.70" cy="82.00" r="1.4" fill="#0e4c8e"/>
<circle cx="473.30" cy="84.40" r="1.4" fill="#d3143c"/>
<circle cx="483.70" cy="86.60" r="1.4" fill="#0e4c8e"/>
<circle cx="473.30" cy="85.20" r="1.4" fill="#d3143c"/>
<circle cx="483.70" cy="80.75" r="1.4" fill="#0e4c8e"/>
<line x1="494.20" y1="73.50" x2="504.60" y2="72.70" stroke="#111" stroke-width="0.8" />
<line x1="494.20" y1="75.50" x2="504.60" y2="77.10" stroke="#111" stroke-width="0.8" />
<line x1="494.20" y1="77.50" x2="504.60" y2="72.70" stroke="#111" stroke-width="0.8" />
<line x1="494.20" y1="79.50" x2="504.60" y2="84.00" stroke="#111" stroke-width="0.8" />
<line x1="494.20" y1="81.00" x2="504.60" y2="80.75" stroke="#111" stroke-width="0.8" />
<line x1="494.20" y1="82.40" x2="504.60" y2="92.00" stroke="#111" stroke-width="0.8" />
<circle cx="494.20" cy="73.50" r="1.4" fill="#d3143c"/>
<circle cx="504.60" cy="72.70" r="1.4" fill="#1fae3f"/>
<circle cx="494.20" cy="75.50" r="1.4" fill="#d3143c"/>
<circle cx="504.60" cy="77.10" r="1.4" fill="#1fae3f"/>
<circle cx="494.20" cy="77.50" r="1.4" fill="#d3143c"/>
<circle cx="504.60" cy="72.70" r="1.4" fill="#1fae3f"/>
<circle cx="494.20" cy="79.50" r="1.4" fill="#d3143c"/>
<circle cx="504.60" cy="84.00" r="1.4" fill="#1fae3f"/>
<circle cx="494.20" cy="81.00" r="1.4" fill="#d3143c"/>
<circle cx="504.60" cy="80.75" r="1.4" fill="#1fae3f"/>
<circle cx="494.20" cy="82.40" r="1.4" fill="#d3143c"/>
<circle cx="504.60" cy="92.00" r="1.4" fill="#1fae3f"/>
<text transform="translate(426.80 117.00) rotate(-45) scale(0.9000 1)" font-size="8.0" text-anchor="end" stroke="#222" stroke-width="0.22"><tspan>CD45.1/2</tspan></text>
<text transform="translate(438.10 118.00) rotate(-45) scale(0.9000 1)" font-size="8.0" text-anchor="end" stroke="#222" stroke-width="0.22"><tspan>Control</tspan></text>
<text transform="translate(448.20 118.00) rotate(-45) scale(0.9000 1)" font-size="8.0" text-anchor="end" stroke="#222" stroke-width="0.22"><tspan>CD45.1/2</tspan></text>
<text transform="translate(459.70 118.00) rotate(-45) scale(0.9000 1)" font-size="8.0" text-anchor="end" fill="#2db246" stroke="#2db246" stroke-width="0.22"><tspan>Myd88/Cd79b</tspan></text>
<text transform="translate(474.80 117.00) rotate(-45) scale(0.9000 1)" font-size="8.0" text-anchor="end" stroke="#222" stroke-width="0.22"><tspan>CD45.1/2</tspan></text>
<text transform="translate(486.10 118.00) rotate(-45) scale(0.9000 1)" font-size="8.0" text-anchor="end" stroke="#222" stroke-width="0.22"><tspan>Control</tspan></text>
<text transform="translate(496.40 118.00) rotate(-45) scale(0.9000 1)" font-size="8.0" text-anchor="end" stroke="#222" stroke-width="0.22"><tspan>CD45.1/2</tspan></text>
<text transform="translate(508.20 118.00) rotate(-45) scale(0.9000 1)" font-size="8.0" text-anchor="end" fill="#2db246" stroke="#2db246" stroke-width="0.22"><tspan>Myd88/Cd79b</tspan></text>
<line x1="412.00" y1="154.25" x2="453.75" y2="154.25" stroke="#222" stroke-width="1.1" />
<line x1="458.00" y1="154.25" x2="499.50" y2="154.25" stroke="#222" stroke-width="1.1" />
<text transform="translate(416.25 163.75) scale(0.8360 1)" font-size="9" stroke="#222" stroke-width="0.22"><tspan>IgM</tspan><tspan font-size="5.76" dy="-3.24">+</tspan><tspan dy="3.24"> GCB</tspan></text>
<text transform="translate(463.25 163.75) scale(0.7896 1)" font-size="9" stroke="#222" stroke-width="0.22"><tspan>IgM</tspan><tspan font-size="5.76" dy="-3.24">–</tspan><tspan dy="3.24"> GCB</tspan></text>
<text transform="translate(7.20 179.30)" font-size="11.5" fill="#000" stroke="#000" stroke-width="0.3"><tspan font-weight="bold">C</tspan></text>
<line x1="44.60" y1="196.40" x2="44.60" y2="268.10" stroke="#2a2a2a" stroke-width="1.3" />
<line x1="41.80" y1="200.40" x2="44.60" y2="200.40" stroke="#2a2a2a" stroke-width="1.2" />
<text transform="translate(38.40 203.30) scale(0.9000 1)" font-size="8.3" text-anchor="end" stroke="#222" stroke-width="0.22"><tspan>0.8</tspan></text>
<line x1="41.80" y1="217.10" x2="44.60" y2="217.10" stroke="#2a2a2a" stroke-width="1.2" />
<text transform="translate(38.40 220.00) scale(0.9000 1)" font-size="8.3" text-anchor="end" stroke="#222" stroke-width="0.22"><tspan>0.6</tspan></text>
<line x1="41.80" y1="234.30" x2="44.60" y2="234.30" stroke="#2a2a2a" stroke-width="1.2" />
<text transform="translate(38.40 237.20) scale(0.9000 1)" font-size="8.3" text-anchor="end" stroke="#222" stroke-width="0.22"><tspan>0.4</tspan></text>
<line x1="41.80" y1="250.70" x2="44.60" y2="250.70" stroke="#2a2a2a" stroke-width="1.2" />
<text transform="translate(38.40 253.60) scale(0.9000 1)" font-size="8.3" text-anchor="end" stroke="#222" stroke-width="0.22"><tspan>0.2</tspan></text>
<line x1="41.80" y1="267.50" x2="44.60" y2="267.50" stroke="#2a2a2a" stroke-width="1.2" />
<text transform="translate(38.40 270.40) scale(0.9000 1)" font-size="8.3" text-anchor="end" stroke="#222" stroke-width="0.22"><tspan>0</tspan></text>
<line x1="44.00" y1="267.50" x2="75.20" y2="267.50" stroke="#2a2a2a" stroke-width="1.2" />
<line x1="51.10" y1="267.50" x2="51.10" y2="270.50" stroke="#2a2a2a" stroke-width="1.2" />
<line x1="66.40" y1="267.50" x2="66.40" y2="270.50" stroke="#2a2a2a" stroke-width="1.2" />
<text transform="translate(22.00 232.20) rotate(-90) scale(0.8484 1)" font-size="8.8" text-anchor="middle" stroke="#222" stroke-width="0.22"><tspan>IgM</tspan><tspan font-size="5.63" dy="-3.17">+</tspan><tspan dy="3.17"> GCB (non-PB; % of live)</tspan></text>
<line x1="48.10" y1="254.50" x2="54.10" y2="254.50" stroke="#111" stroke-width="1.0" />
<circle cx="51.30" cy="232.70" r="1.5" fill="#0e4c8e"/>
<circle cx="50.80" cy="241.70" r="1.5" fill="#0e4c8e"/>
<circle cx="52.80" cy="242.50" r="1.5" fill="#0e4c8e"/>
<circle cx="51.00" cy="247.80" r="1.5" fill="#0e4c8e"/>
<circle cx="51.35" cy="249.90" r="1.5" fill="#0e4c8e"/>
<circle cx="48.10" cy="250.50" r="1.5" fill="#0e4c8e"/>
<circle cx="52.60" cy="251.60" r="1.5" fill="#0e4c8e"/>
<circle cx="50.00" cy="252.40" r="1.5" fill="#0e4c8e"/>
<circle cx="47.21" cy="253.00" r="1.5" fill="#0e4c8e"/>
<circle cx="52.70" cy="254.00" r="1.5" fill="#0e4c8e"/>
<circle cx="50.80" cy="255.70" r="1.5" fill="#0e4c8e"/>
<circle cx="52.80" cy="257.30" r="1.5" fill="#0e4c8e"/>
<circle cx="51.00" cy="261.10" r="1.5" fill="#0e4c8e"/>
<line x1="63.40" y1="248.50" x2="69.40" y2="248.50" stroke="#111" stroke-width="1.0" />
<circle cx="66.60" cy="209.00" r="1.5" fill="#1fae3f"/>
<circle cx="66.10" cy="236.80" r="1.5" fill="#1fae3f"/>
<circle cx="66.70" cy="242.50" r="1.5" fill="#1fae3f"/>
<circle cx="64.90" cy="244.20" r="1.5" fill="#1fae3f"/>
<circle cx="66.65" cy="246.00" r="1.5" fill="#1fae3f"/>
<circle cx="64.80" cy="247.50" r="1.5" fill="#1fae3f"/>
<circle cx="66.50" cy="248.80" r="1.5" fill="#1fae3f"/>
<circle cx="63.90" cy="249.50" r="1.5" fill="#1fae3f"/>
<circle cx="66.15" cy="251.60" r="1.5" fill="#1fae3f"/>
<circle cx="66.60" cy="256.00" r="1.5" fill="#1fae3f"/>
<circle cx="66.10" cy="260.60" r="1.5" fill="#1fae3f"/>
<text transform="translate(52.90 278.00) rotate(-45) scale(0.9300 1)" font-size="8.4" text-anchor="end" stroke="#222" stroke-width="0.22"><tspan>Control</tspan></text>
<text transform="translate(69.80 276.60) rotate(-45) scale(0.9700 1)" font-size="8.4" text-anchor="end" fill="#2db246" stroke="#2db246" stroke-width="0.22"><tspan>Myd88/Cd79b</tspan></text>
<line x1="109.20" y1="196.20" x2="109.20" y2="268.10" stroke="#2a2a2a" stroke-width="1.3" />
<line x1="106.40" y1="200.20" x2="109.20" y2="200.20" stroke="#2a2a2a" stroke-width="1.2" />
<text transform="translate(103.00 203.10) scale(0.9000 1)" font-size="8.3" text-anchor="end" stroke="#222" stroke-width="0.22"><tspan>0.6</tspan></text>
<line x1="106.40" y1="222.90" x2="109.20" y2="222.90" stroke="#2a2a2a" stroke-width="1.2" />
<text transform="translate(103.00 225.80) scale(0.9000 1)" font-size="8.3" text-anchor="end" stroke="#222" stroke-width="0.22"><tspan>0.4</tspan></text>
<line x1="106.40" y1="245.40" x2="109.20" y2="245.40" stroke="#2a2a2a" stroke-width="1.2" />
<text transform="translate(103.00 248.30) scale(0.9000 1)" font-size="8.3" text-anchor="end" stroke="#222" stroke-width="0.22"><tspan>0.2</tspan></text>
<line x1="106.40" y1="267.50" x2="109.20" y2="267.50" stroke="#2a2a2a" stroke-width="1.2" />
<text transform="translate(103.00 270.40) scale(0.9000 1)" font-size="8.3" text-anchor="end" stroke="#222" stroke-width="0.22"><tspan>0.0</tspan></text>
<line x1="108.60" y1="267.50" x2="137.00" y2="267.50" stroke="#2a2a2a" stroke-width="1.2" />
<line x1="115.40" y1="267.50" x2="115.40" y2="270.50" stroke="#2a2a2a" stroke-width="1.2" />
<line x1="129.80" y1="267.50" x2="129.80" y2="270.50" stroke="#2a2a2a" stroke-width="1.2" />
<text transform="translate(85.70 232.20) rotate(-90) scale(0.8602 1)" font-size="8.8" text-anchor="middle" stroke="#222" stroke-width="0.22"><tspan>IgM</tspan><tspan font-size="5.63" dy="-3.17">+</tspan><tspan dy="3.17"> PB (% of live)</tspan></text>
<line x1="112.40" y1="266.50" x2="118.40" y2="266.50" stroke="#111" stroke-width="1.0" />
<circle cx="115.60" cy="253.00" r="1.5" fill="#0e4c8e"/>
<circle cx="115.10" cy="264.00" r="1.5" fill="#0e4c8e"/>
<circle cx="112.90" cy="264.50" r="1.5" fill="#0e4c8e"/>
<circle cx="118.10" cy="265.00" r="1.5" fill="#0e4c8e"/>
<circle cx="115.65" cy="265.50" r="1.5" fill="#0e4c8e"/>
<circle cx="115.20" cy="266.00" r="1.5" fill="#0e4c8e"/>
<circle cx="115.50" cy="266.30" r="1.5" fill="#0e4c8e"/>
<circle cx="112.06" cy="266.50" r="1.5" fill="#0e4c8e"/>
<circle cx="118.79" cy="267.00" r="1.5" fill="#0e4c8e"/>
<circle cx="115.60" cy="267.20" r="1.5" fill="#0e4c8e"/>
<line x1="126.80" y1="256.50" x2="132.80" y2="256.50" stroke="#111" stroke-width="1.0" />
<circle cx="130.00" cy="209.40" r="1.5" fill="#1fae3f"/>
<circle cx="129.50" cy="243.20" r="1.5" fill="#1fae3f"/>
<circle cx="130.10" cy="250.00" r="1.5" fill="#1fae3f"/>
<circle cx="129.70" cy="252.50" r="1.5" fill="#1fae3f"/>
<circle cx="130.05" cy="254.60" r="1.5" fill="#1fae3f"/>
<circle cx="126.80" cy="255.50" r="1.5" fill="#1fae3f"/>
<circle cx="129.90" cy="257.00" r="1.5" fill="#1fae3f"/>
<circle cx="130.10" cy="259.20" r="1.5" fill="#1fae3f"/>
<circle cx="128.15" cy="260.50" r="1.5" fill="#1fae3f"/>
<circle cx="130.00" cy="262.30" r="1.5" fill="#1fae3f"/>
<circle cx="128.10" cy="263.80" r="1.5" fill="#1fae3f"/>
<text transform="translate(117.20 278.00) rotate(-45) scale(0.9300 1)" font-size="8.4" text-anchor="end" stroke="#222" stroke-width="0.22"><tspan>Control</tspan></text>
<text transform="translate(133.20 276.60) rotate(-45) scale(0.9700 1)" font-size="8.4" text-anchor="end" fill="#2db246" stroke="#2db246" stroke-width="0.22"><tspan>Myd88/Cd79b</tspan></text>
<line x1="113.80" y1="205.40" x2="132.90" y2="205.40" stroke="#3a3a3a" stroke-width="1.2" />
<path d="M119.90,201.80L119.90,200.70M119.90,201.80L120.95,201.46M119.90,201.80L120.55,202.69M119.90,201.80L119.25,202.69M119.90,201.80L118.85,201.46" stroke="#222" stroke-width="0.75" stroke-linecap="round" fill="none"/><circle cx="119.90" cy="201.80" r="0.85" fill="#1a1a1a"/>
<path d="M123.35,201.80L123.35,200.70M123.35,201.80L124.40,201.46M123.35,201.80L124.00,202.69M123.35,201.80L122.70,202.69M123.35,201.80L122.30,201.46" stroke="#222" stroke-width="0.75" stroke-linecap="round" fill="none"/><circle cx="123.35" cy="201.80" r="0.85" fill="#1a1a1a"/>
<path d="M126.80,201.80L126.80,200.70M126.80,201.80L127.85,201.46M126.80,201.80L127.45,202.69M126.80,201.80L126.15,202.69M126.80,201.80L125.75,201.46" stroke="#222" stroke-width="0.75" stroke-linecap="round" fill="none"/><circle cx="126.80" cy="201.80" r="0.85" fill="#1a1a1a"/>
<line x1="168.60" y1="196.20" x2="168.60" y2="268.10" stroke="#2a2a2a" stroke-width="1.3" />
<line x1="165.80" y1="200.20" x2="168.60" y2="200.20" stroke="#2a2a2a" stroke-width="1.2" />
<text transform="translate(162.40 203.10) scale(0.9000 1)" font-size="8.3" text-anchor="end" stroke="#222" stroke-width="0.22"><tspan>4</tspan></text>
<line x1="165.80" y1="217.10" x2="168.60" y2="217.10" stroke="#2a2a2a" stroke-width="1.2" />
<text transform="translate(162.40 220.00) scale(0.9000 1)" font-size="8.3" text-anchor="end" stroke="#222" stroke-width="0.22"><tspan>3</tspan></text>
<line x1="165.80" y1="234.00" x2="168.60" y2="234.00" stroke="#2a2a2a" stroke-width="1.2" />
<text transform="translate(162.40 236.90) scale(0.9000 1)" font-size="8.3" text-anchor="end" stroke="#222" stroke-width="0.22"><tspan>2</tspan></text>
<line x1="165.80" y1="250.90" x2="168.60" y2="250.90" stroke="#2a2a2a" stroke-width="1.2" />
<text transform="translate(162.40 253.80) scale(0.9000 1)" font-size="8.3" text-anchor="end" stroke="#222" stroke-width="0.22"><tspan>1</tspan></text>
<line x1="165.80" y1="267.50" x2="168.60" y2="267.50" stroke="#2a2a2a" stroke-width="1.2" />
<text transform="translate(162.40 270.40) scale(0.9000 1)" font-size="8.3" text-anchor="end" stroke="#222" stroke-width="0.22"><tspan>0</tspan></text>
<line x1="168.00" y1="267.50" x2="197.00" y2="267.50" stroke="#2a2a2a" stroke-width="1.2" />
<line x1="174.80" y1="267.50" x2="174.80" y2="270.50" stroke="#2a2a2a" stroke-width="1.2" />
<line x1="190.20" y1="267.50" x2="190.20" y2="270.50" stroke="#2a2a2a" stroke-width="1.2" />
<text transform="translate(152.60 232.20) rotate(-90) scale(0.8545 1)" font-size="8.8" text-anchor="middle" stroke="#222" stroke-width="0.22"><tspan>IgM</tspan><tspan font-size="5.63" dy="-3.17">+</tspan><tspan dy="3.17"> PC (% of live)</tspan></text>
<line x1="171.80" y1="256.50" x2="177.80" y2="256.50" stroke="#111" stroke-width="1.0" />
<circle cx="175.00" cy="229.40" r="1.5" fill="#0e4c8e"/>
<circle cx="174.50" cy="246.00" r="1.5" fill="#0e4c8e"/>
<circle cx="175.10" cy="252.50" r="1.5" fill="#0e4c8e"/>
<circle cx="171.90" cy="253.50" r="1.5" fill="#0e4c8e"/>
<circle cx="175.05" cy="254.60" r="1.5" fill="#0e4c8e"/>
<circle cx="177.40" cy="255.50" r="1.5" fill="#0e4c8e"/>
<circle cx="173.50" cy="256.20" r="1.5" fill="#0e4c8e"/>
<circle cx="176.50" cy="257.50" r="1.5" fill="#0e4c8e"/>
<circle cx="174.55" cy="259.20" r="1.5" fill="#0e4c8e"/>
<circle cx="176.40" cy="260.50" r="1.5" fill="#0e4c8e"/>
<circle cx="174.50" cy="262.30" r="1.5" fill="#0e4c8e"/>
<line x1="187.20" y1="237.50" x2="193.20" y2="237.50" stroke="#111" stroke-width="1.0" />
<circle cx="190.40" cy="219.20" r="1.5" fill="#1fae3f"/>
<circle cx="189.90" cy="222.30" r="1.5" fill="#1fae3f"/>
<circle cx="190.50" cy="230.90" r="1.5" fill="#1fae3f"/>
<circle cx="188.70" cy="232.50" r="1.5" fill="#1fae3f"/>
<circle cx="190.45" cy="234.60" r="1.5" fill="#1fae3f"/>
<circle cx="190.00" cy="237.00" r="1.5" fill="#1fae3f"/>
<circle cx="191.70" cy="238.50" r="1.5" fill="#1fae3f"/>
<circle cx="189.10" cy="240.20" r="1.5" fill="#1fae3f"/>
<circle cx="189.95" cy="244.80" r="1.5" fill="#1fae3f"/>
<circle cx="190.40" cy="253.00" r="1.5" fill="#1fae3f"/>
<circle cx="189.90" cy="255.50" r="1.5" fill="#1fae3f"/>
<text transform="translate(176.60 278.00) rotate(-45) scale(0.9300 1)" font-size="8.4" text-anchor="end" stroke="#222" stroke-width="0.22"><tspan>Control</tspan></text>
<text transform="translate(193.60 276.60) rotate(-45) scale(0.9700 1)" font-size="8.4" text-anchor="end" fill="#2db246" stroke="#2db246" stroke-width="0.22"><tspan>Myd88/Cd79b</tspan></text>
<line x1="173.80" y1="205.40" x2="191.40" y2="205.40" stroke="#3a3a3a" stroke-width="1.2" />
<path d="M177.43,201.80L177.43,200.70M177.43,201.80L178.47,201.46M177.43,201.80L178.07,202.69M177.43,201.80L176.78,202.69M177.43,201.80L176.38,201.46" stroke="#222" stroke-width="0.75" stroke-linecap="round" fill="none"/><circle cx="177.43" cy="201.80" r="0.85" fill="#1a1a1a"/>
<path d="M180.88,201.80L180.88,200.70M180.88,201.80L181.92,201.46M180.88,201.80L181.52,202.69M180.88,201.80L180.23,202.69M180.88,201.80L179.83,201.46" stroke="#222" stroke-width="0.75" stroke-linecap="round" fill="none"/><circle cx="180.88" cy="201.80" r="0.85" fill="#1a1a1a"/>
<path d="M184.33,201.80L184.33,200.70M184.33,201.80L185.37,201.46M184.33,201.80L184.97,202.69M184.33,201.80L183.68,202.69M184.33,201.80L183.28,201.46" stroke="#222" stroke-width="0.75" stroke-linecap="round" fill="none"/><circle cx="184.33" cy="201.80" r="0.85" fill="#1a1a1a"/>
<path d="M187.78,201.80L187.78,200.70M187.78,201.80L188.82,201.46M187.78,201.80L188.42,202.69M187.78,201.80L187.13,202.69M187.78,201.80L186.73,201.46" stroke="#222" stroke-width="0.75" stroke-linecap="round" fill="none"/><circle cx="187.78" cy="201.80" r="0.85" fill="#1a1a1a"/>
<text transform="translate(211.70 179.40)" font-size="11.5" fill="#000" stroke="#000" stroke-width="0.3"><tspan font-weight="bold">D</tspan></text>
<text transform="translate(234.60 189.70) scale(1.0656 1)" font-size="9.3" fill="#2db246" stroke="#2db246" stroke-width="0.22"><tspan>Myd88/Cd79b</tspan></text>
<text transform="translate(299.10 189.70) scale(1.0143 1)" font-size="9.3" stroke="#222" stroke-width="0.22"><tspan>spleen (9 months)</tspan></text>
<rect x="222.50" y="211.2" width="48.10" height="48.2" fill="none" stroke="#3a3a3a" stroke-width="0.95"/>
<rect x="244.30" y="222.4" width="18.30" height="37" fill="none" stroke="#888" stroke-width="0.8"/>
<text transform="translate(226.90 208.00) scale(0.9591 1)" font-size="8.6" stroke="#222" stroke-width="0.22"><tspan>IgM</tspan><tspan font-size="5.50" dy="-3.10">+</tspan><tspan dy="3.10"> GCB</tspan></text>
<text transform="translate(253.45 255.60) scale(0.9500 1)" font-size="6.6" text-anchor="middle" stroke="#222" stroke-width="0.22"><tspan>32.3</tspan></text>
<line x1="228.50" y1="259.40" x2="228.50" y2="260.90" stroke="#444" stroke-width="0.6" />
<line x1="221.00" y1="217.20" x2="222.50" y2="217.20" stroke="#444" stroke-width="0.6" />
<line x1="234.50" y1="259.40" x2="234.50" y2="260.90" stroke="#444" stroke-width="0.6" />
<line x1="221.00" y1="223.20" x2="222.50" y2="223.20" stroke="#444" stroke-width="0.6" />
<line x1="240.50" y1="259.40" x2="240.50" y2="260.90" stroke="#444" stroke-width="0.6" />
<line x1="221.00" y1="229.20" x2="222.50" y2="229.20" stroke="#444" stroke-width="0.6" />
<line x1="246.50" y1="259.40" x2="246.50" y2="260.90" stroke="#444" stroke-width="0.6" />
<line x1="221.00" y1="235.20" x2="222.50" y2="235.20" stroke="#444" stroke-width="0.6" />
<line x1="252.50" y1="259.40" x2="252.50" y2="260.90" stroke="#444" stroke-width="0.6" />
<line x1="221.00" y1="241.20" x2="222.50" y2="241.20" stroke="#444" stroke-width="0.6" />
<line x1="258.50" y1="259.40" x2="258.50" y2="260.90" stroke="#444" stroke-width="0.6" />
<line x1="221.00" y1="247.20" x2="222.50" y2="247.20" stroke="#444" stroke-width="0.6" />
<line x1="264.50" y1="259.40" x2="264.50" y2="260.90" stroke="#444" stroke-width="0.6" />
<line x1="221.00" y1="253.20" x2="222.50" y2="253.20" stroke="#444" stroke-width="0.6" />
<rect x="281.50" y="211.2" width="49.00" height="48.2" fill="none" stroke="#3a3a3a" stroke-width="0.95"/>
<rect x="305.30" y="222.4" width="17.60" height="37" fill="none" stroke="#888" stroke-width="0.8"/>
<text transform="translate(291.20 208.00) scale(0.9487 1)" font-size="8.6" stroke="#222" stroke-width="0.22"><tspan>IgM</tspan><tspan font-size="5.50" dy="-3.10">+</tspan><tspan dy="3.10"> PB</tspan></text>
<text transform="translate(314.10 255.60) scale(0.9500 1)" font-size="6.6" text-anchor="middle" stroke="#222" stroke-width="0.22"><tspan>12.1</tspan></text>
<line x1="287.50" y1="259.40" x2="287.50" y2="260.90" stroke="#444" stroke-width="0.6" />
<line x1="280.00" y1="217.20" x2="281.50" y2="217.20" stroke="#444" stroke-width="0.6" />
<line x1="293.50" y1="259.40" x2="293.50" y2="260.90" stroke="#444" stroke-width="0.6" />
<line x1="280.00" y1="223.20" x2="281.50" y2="223.20" stroke="#444" stroke-width="0.6" />
<line x1="299.50" y1="259.40" x2="299.50" y2="260.90" stroke="#444" stroke-width="0.6" />
<line x1="280.00" y1="229.20" x2="281.50" y2="229.20" stroke="#444" stroke-width="0.6" />
<line x1="305.50" y1="259.40" x2="305.50" y2="260.90" stroke="#444" stroke-width="0.6" />
<line x1="280.00" y1="235.20" x2="281.50" y2="235.20" stroke="#444" stroke-width="0.6" />
<line x1="311.50" y1="259.40" x2="311.50" y2="260.90" stroke="#444" stroke-width="0.6" />
<line x1="280.00" y1="241.20" x2="281.50" y2="241.20" stroke="#444" stroke-width="0.6" />
<line x1="317.50" y1="259.40" x2="317.50" y2="260.90" stroke="#444" stroke-width="0.6" />
<line x1="280.00" y1="247.20" x2="281.50" y2="247.20" stroke="#444" stroke-width="0.6" />
<line x1="323.50" y1="259.40" x2="323.50" y2="260.90" stroke="#444" stroke-width="0.6" />
<line x1="280.00" y1="253.20" x2="281.50" y2="253.20" stroke="#444" stroke-width="0.6" />
<rect x="341.50" y="211.2" width="49.10" height="48.2" fill="none" stroke="#3a3a3a" stroke-width="0.95"/>
<rect x="364.10" y="222.4" width="17.80" height="37" fill="none" stroke="#888" stroke-width="0.8"/>
<text transform="translate(350.90 208.00) scale(0.9534 1)" font-size="8.6" stroke="#222" stroke-width="0.22"><tspan>IgM</tspan><tspan font-size="5.50" dy="-3.10">+</tspan><tspan dy="3.10"> PC</tspan></text>
<text transform="translate(373.00 255.60) scale(0.9500 1)" font-size="6.6" text-anchor="middle" stroke="#222" stroke-width="0.22"><tspan>2.81</tspan></text>
<line x1="347.50" y1="259.40" x2="347.50" y2="260.90" stroke="#444" stroke-width="0.6" />
<line x1="340.00" y1="217.20" x2="341.50" y2="217.20" stroke="#444" stroke-width="0.6" />
<line x1="353.50" y1="259.40" x2="353.50" y2="260.90" stroke="#444" stroke-width="0.6" />
<line x1="340.00" y1="223.20" x2="341.50" y2="223.20" stroke="#444" stroke-width="0.6" />
<line x1="359.50" y1="259.40" x2="359.50" y2="260.90" stroke="#444" stroke-width="0.6" />
<line x1="340.00" y1="229.20" x2="341.50" y2="229.20" stroke="#444" stroke-width="0.6" />
<line x1="365.50" y1="259.40" x2="365.50" y2="260.90" stroke="#444" stroke-width="0.6" />
<line x1="340.00" y1="235.20" x2="341.50" y2="235.20" stroke="#444" stroke-width="0.6" />
<line x1="371.50" y1="259.40" x2="371.50" y2="260.90" stroke="#444" stroke-width="0.6" />
<line x1="340.00" y1="241.20" x2="341.50" y2="241.20" stroke="#444" stroke-width="0.6" />
<line x1="377.50" y1="259.40" x2="377.50" y2="260.90" stroke="#444" stroke-width="0.6" />
<line x1="340.00" y1="247.20" x2="341.50" y2="247.20" stroke="#444" stroke-width="0.6" />
<line x1="383.50" y1="259.40" x2="383.50" y2="260.90" stroke="#444" stroke-width="0.6" />
<line x1="340.00" y1="253.20" x2="341.50" y2="253.20" stroke="#444" stroke-width="0.6" />
<ellipse cx="236.3" cy="236.3" rx="2.3" ry="3.0" fill="#c8c8c8"/>
<path d="M239.2,229.6 L247.2,229.4 M239.4,232.0 L247.0,231.6" stroke="#8a8a8a" stroke-width="0.7" fill="none"/>
<ellipse cx="236.6" cy="231.2" rx="3.5" ry="3.8" fill="#111"/>
<ellipse cx="236.8" cy="230.9" rx="1.1" ry="1.0" fill="#777"/>
<ellipse cx="250.1" cy="230.5" rx="3.5" ry="3.2" fill="#151515"/>
<ellipse cx="250.3" cy="230.1" rx="1.4" ry="0.8" fill="#888"/>
<ellipse cx="250.0" cy="235.2" rx="2.0" ry="1.2" fill="#e2e2e2"/>
<path d="M302.5,235 L306.5,234.8" stroke="#c0c0c0" stroke-width="2.0"/>
<ellipse cx="298.2" cy="235.8" rx="3.9" ry="5.9" fill="#0a0a0a"/>
<ellipse cx="309.7" cy="234.6" rx="2.9" ry="3.2" fill="#555"/>
<ellipse cx="309.9" cy="234.4" rx="1.2" ry="1.4" fill="#bbb"/>
<ellipse cx="358.2" cy="247.5" rx="2.2" ry="3.5" fill="#c8c8c8"/>
<ellipse cx="358.4" cy="235.6" rx="3.0" ry="4.7" fill="#0d0d0d"/>
<ellipse cx="358.6" cy="244.2" rx="3.1" ry="4.2" fill="#0d0d0d"/>
<ellipse cx="358.2" cy="235.0" rx="0.9" ry="1.2" fill="#777"/>
<circle cx="367.90" cy="233.56" r="0.45" fill="#b5b5b5"/>
<circle cx="370.03" cy="232.23" r="0.45" fill="#b5b5b5"/>
<circle cx="369.28" cy="237.22" r="0.45" fill="#b5b5b5"/>
<circle cx="366.18" cy="239.63" r="0.45" fill="#b5b5b5"/>
<circle cx="366.04" cy="238.37" r="0.45" fill="#b5b5b5"/>
<circle cx="366.25" cy="232.54" r="0.45" fill="#b5b5b5"/>
<circle cx="368.56" cy="245.06" r="0.45" fill="#b5b5b5"/>
<circle cx="366.60" cy="234.80" r="0.45" fill="#b5b5b5"/>
<circle cx="369.88" cy="247.11" r="0.45" fill="#b5b5b5"/>
<circle cx="369.55" cy="237.74" r="0.45" fill="#b5b5b5"/>
<circle cx="372.15" cy="231.79" r="0.45" fill="#b5b5b5"/>
<circle cx="371.38" cy="235.92" r="0.45" fill="#b5b5b5"/>
<circle cx="366.74" cy="233.00" r="0.45" fill="#b5b5b5"/>
<circle cx="367.81" cy="244.87" r="0.45" fill="#b5b5b5"/>
<circle cx="366.97" cy="240.89" r="0.45" fill="#b5b5b5"/>
<circle cx="369.95" cy="237.33" r="0.45" fill="#b5b5b5"/>
<circle cx="369.36" cy="232.07" r="0.45" fill="#b5b5b5"/>
<circle cx="366.19" cy="234.50" r="0.45" fill="#b5b5b5"/>
<circle cx="370.22" cy="238.27" r="0.45" fill="#b5b5b5"/>
<circle cx="367.84" cy="240.95" r="0.45" fill="#b5b5b5"/>
<circle cx="368.75" cy="236.10" r="0.45" fill="#b5b5b5"/>
<circle cx="370.96" cy="242.88" r="0.45" fill="#b5b5b5"/>
<circle cx="367.39" cy="240.77" r="0.45" fill="#b5b5b5"/>
<circle cx="369.21" cy="245.88" r="0.45" fill="#b5b5b5"/>
<circle cx="370.54" cy="235.89" r="0.45" fill="#b5b5b5"/>
<circle cx="372.17" cy="233.01" r="0.45" fill="#b5b5b5"/>
<text transform="translate(216.80 240.60) rotate(-90) scale(0.8461 1)" font-size="8.4" text-anchor="middle" stroke="#222" stroke-width="0.22"><tspan>B220</tspan></text>
<line x1="214.60" y1="265.50" x2="214.60" y2="255.50" stroke="#222" stroke-width="0.8" />
<path d="M212.8,256 L214.6,252.8 L216.4,256 Z" fill="#222"/>
<line x1="214.60" y1="265.50" x2="224.50" y2="265.50" stroke="#222" stroke-width="0.8" />
<path d="M224,263.7 L227.2,265.5 L224,267.3 Z" fill="#222"/>
<text transform="translate(230.80 267.90) scale(0.8571 1)" font-size="8.4" stroke="#222" stroke-width="0.22"><tspan>BrDU</tspan></text>
<line x1="426.00" y1="195.80" x2="426.00" y2="268.10" stroke="#2a2a2a" stroke-width="1.3" />
<line x1="423.00" y1="199.50" x2="426.00" y2="199.50" stroke="#2a2a2a" stroke-width="1.2" />
<text transform="translate(421.40 202.40) scale(0.9748 1)" font-size="8.3" text-anchor="end" stroke="#222" stroke-width="0.22"><tspan>40</tspan></text>
<line x1="423.00" y1="216.50" x2="426.00" y2="216.50" stroke="#2a2a2a" stroke-width="1.2" />
<text transform="translate(421.40 219.40) scale(0.9748 1)" font-size="8.3" text-anchor="end" stroke="#222" stroke-width="0.22"><tspan>30</tspan></text>
<line x1="423.00" y1="233.50" x2="426.00" y2="233.50" stroke="#2a2a2a" stroke-width="1.2" />
<text transform="translate(421.40 236.40) scale(0.9748 1)" font-size="8.3" text-anchor="end" stroke="#222" stroke-width="0.22"><tspan>20</tspan></text>
<line x1="423.00" y1="250.50" x2="426.00" y2="250.50" stroke="#2a2a2a" stroke-width="1.2" />
<text transform="translate(421.40 253.40) scale(0.9748 1)" font-size="8.3" text-anchor="end" stroke="#222" stroke-width="0.22"><tspan>10</tspan></text>
<line x1="423.00" y1="267.50" x2="426.00" y2="267.50" stroke="#2a2a2a" stroke-width="1.2" />
<text transform="translate(421.40 270.40) scale(0.9748 1)" font-size="8.3" text-anchor="end" stroke="#222" stroke-width="0.22"><tspan>0</tspan></text>
<line x1="425.40" y1="267.50" x2="501.60" y2="267.50" stroke="#2a2a2a" stroke-width="1.2" />
<line x1="433.90" y1="267.50" x2="433.90" y2="270.50" stroke="#2a2a2a" stroke-width="1.2" />
<line x1="445.30" y1="267.50" x2="445.30" y2="270.50" stroke="#2a2a2a" stroke-width="1.2" />
<line x1="457.90" y1="267.50" x2="457.90" y2="270.50" stroke="#2a2a2a" stroke-width="1.2" />
<line x1="469.90" y1="267.50" x2="469.90" y2="270.50" stroke="#2a2a2a" stroke-width="1.2" />
<line x1="481.80" y1="267.50" x2="481.80" y2="270.50" stroke="#2a2a2a" stroke-width="1.2" />
<line x1="493.60" y1="267.50" x2="493.60" y2="270.50" stroke="#2a2a2a" stroke-width="1.2" />
<line x1="451.80" y1="200.00" x2="451.80" y2="267.50" stroke="#8a8a8a" stroke-width="1.2" />
<line x1="475.30" y1="200.00" x2="475.30" y2="267.50" stroke="#8a8a8a" stroke-width="1.2" />
<text transform="translate(405.60 233.50) rotate(-90) scale(0.7827 1)" font-size="9.3" text-anchor="middle" stroke="#222" stroke-width="0.22"><tspan>% BrdU</tspan><tspan font-size="5.95" dy="-3.35">+</tspan></text>
<text transform="translate(431.70 279.80) scale(0.9062 1)" font-size="8.3" stroke="#222" stroke-width="0.22"><tspan>GCB</tspan></text>
<text transform="translate(458.60 279.80) scale(0.8580 1)" font-size="8.3" stroke="#222" stroke-width="0.22"><tspan>PB</tspan></text>
<text transform="translate(482.40 279.80) scale(0.8759 1)" font-size="8.3" stroke="#222" stroke-width="0.22"><tspan>PC</tspan></text>
<line x1="428.80" y1="284.00" x2="497.60" y2="284.00" stroke="#333" stroke-width="1.0" />
<text transform="translate(453.80 294.70) scale(0.9800 1)" font-size="9" stroke="#222" stroke-width="0.22"><tspan>IgM</tspan><tspan font-size="5.76" dy="-3.24">+</tspan></text>
<line x1="430.70" y1="216.50" x2="436.70" y2="216.50" stroke="#111" stroke-width="1.0" />
<circle cx="433.90" cy="208.70" r="1.5" fill="#0e4c8e"/>
<circle cx="433.40" cy="211.60" r="1.5" fill="#0e4c8e"/>
<circle cx="434.00" cy="215.90" r="1.5" fill="#0e4c8e"/>
<circle cx="431.90" cy="217.30" r="1.5" fill="#0e4c8e"/>
<circle cx="433.95" cy="218.80" r="1.5" fill="#0e4c8e"/>
<circle cx="431.80" cy="220.20" r="1.5" fill="#0e4c8e"/>
<circle cx="433.80" cy="222.50" r="1.5" fill="#0e4c8e"/>
<line x1="443.60" y1="213.50" x2="449.60" y2="213.50" stroke="#111" stroke-width="1.0" />
<circle cx="446.80" cy="204.40" r="1.5" fill="#1fae3f"/>
<circle cx="446.30" cy="207.30" r="1.5" fill="#1fae3f"/>
<circle cx="446.90" cy="211.60" r="1.5" fill="#1fae3f"/>
<circle cx="446.50" cy="213.90" r="1.5" fill="#1fae3f"/>
<circle cx="446.85" cy="221.60" r="1.5" fill="#1fae3f"/>
<circle cx="444.70" cy="223.60" r="1.5" fill="#1fae3f"/>
<line x1="454.50" y1="228.50" x2="460.50" y2="228.50" stroke="#111" stroke-width="1.0" />
<circle cx="457.70" cy="204.40" r="1.5" fill="#0e4c8e"/>
<circle cx="457.20" cy="207.30" r="1.5" fill="#0e4c8e"/>
<circle cx="457.80" cy="215.90" r="1.5" fill="#0e4c8e"/>
<circle cx="457.40" cy="227.40" r="1.5" fill="#0e4c8e"/>
<circle cx="457.75" cy="236.00" r="1.5" fill="#0e4c8e"/>
<circle cx="457.30" cy="238.80" r="1.5" fill="#0e4c8e"/>
<circle cx="457.60" cy="254.00" r="1.5" fill="#0e4c8e"/>
<line x1="467.10" y1="236.50" x2="473.10" y2="236.50" stroke="#111" stroke-width="1.0" />
<circle cx="470.30" cy="227.40" r="1.5" fill="#1fae3f"/>
<circle cx="468.10" cy="228.80" r="1.5" fill="#1fae3f"/>
<circle cx="470.40" cy="233.10" r="1.5" fill="#1fae3f"/>
<circle cx="470.00" cy="240.30" r="1.5" fill="#1fae3f"/>
<circle cx="470.35" cy="246.00" r="1.5" fill="#1fae3f"/>
<circle cx="469.90" cy="256.00" r="1.5" fill="#1fae3f"/>
<line x1="479.40" y1="261.50" x2="485.40" y2="261.50" stroke="#111" stroke-width="1.0" />
<circle cx="482.60" cy="257.50" r="1.5" fill="#0e4c8e"/>
<circle cx="480.40" cy="258.90" r="1.5" fill="#0e4c8e"/>
<circle cx="484.40" cy="259.50" r="1.5" fill="#0e4c8e"/>
<circle cx="482.30" cy="260.30" r="1.5" fill="#0e4c8e"/>
<circle cx="484.35" cy="261.80" r="1.5" fill="#0e4c8e"/>
<circle cx="482.20" cy="263.20" r="1.5" fill="#0e4c8e"/>
<line x1="490.90" y1="254.50" x2="496.90" y2="254.50" stroke="#111" stroke-width="1.0" />
<circle cx="494.10" cy="245.40" r="1.5" fill="#1fae3f"/>
<circle cx="491.90" cy="247.40" r="1.5" fill="#1fae3f"/>
<circle cx="494.20" cy="254.60" r="1.5" fill="#1fae3f"/>
<circle cx="493.80" cy="261.80" r="1.5" fill="#1fae3f"/>
<circle cx="495.85" cy="262.60" r="1.5" fill="#1fae3f"/>
<circle cx="482.60" cy="202.60" r="1.35" fill="#0e4c8e"/>
<text transform="translate(486.70 204.60) scale(0.8801 1)" font-size="8.6" stroke="#222" stroke-width="0.22"><tspan>Control</tspan></text>
<circle cx="482.60" cy="211.50" r="1.35" fill="#1fae3f"/>
<text transform="translate(486.70 214.20) scale(0.8864 1)" font-size="8.6" fill="#2db246" stroke="#2db246" stroke-width="0.22"><tspan>Myd88/</tspan></text>
<text transform="translate(486.70 222.80) scale(0.8839 1)" font-size="8.6" fill="#2db246" stroke="#2db246" stroke-width="0.22"><tspan>Cd79b</tspan></text>
<text transform="translate(115.00 341.10)" font-size="11.5" fill="#000" stroke="#000" stroke-width="0.3"><tspan font-weight="bold">E</tspan></text>
<text transform="translate(119.50 353.00) scale(0.9454 1)" font-size="8.6" fill="#d3143c" stroke="#d3143c" stroke-width="0.22"><tspan font-style="italic">S1pr2-tdTomato</tspan></text>
<text transform="translate(119.60 364.20) scale(0.9685 1)" font-size="8.6" fill="#2db246" stroke="#2db246" stroke-width="0.22"><tspan font-style="italic">Myd88</tspan></text>
<text transform="translate(144.60 360.90) scale(0.9110 1)" font-size="6.2" fill="#2db246" stroke="#2db246" stroke-width="0.22"><tspan>L265P/+</tspan></text>
<text transform="translate(168.50 364.20) scale(0.9628 1)" font-size="8.6" fill="#2db246" stroke="#2db246" stroke-width="0.22"><tspan font-style="italic">Cd79b</tspan></text>
<text transform="translate(192.90 360.90) scale(0.8847 1)" font-size="6.2" fill="#2db246" stroke="#2db246" stroke-width="0.22"><tspan>Y195H/+</tspan></text>
<text transform="translate(218.30 364.20) scale(0.9245 1)" font-size="8.6" fill="#2db246" stroke="#2db246" stroke-width="0.22"><tspan>(Myd88/Cd79b)</tspan></text>
<text transform="translate(119.00 373.30) scale(0.9415 1)" font-size="8.6" stroke="#222" stroke-width="0.22"><tspan>or</tspan></text>
<text transform="translate(129.40 373.30) scale(0.9491 1)" font-size="8.6" fill="#2c5ea6" stroke="#2c5ea6" stroke-width="0.22"><tspan font-style="italic">Myd88</tspan></text>
<text transform="translate(153.90 370.00) scale(0.9036 1)" font-size="6.2" fill="#2c5ea6" stroke="#2c5ea6" stroke-width="0.22"><tspan>+/+</tspan></text>
<text transform="translate(163.50 373.30) scale(1.0022 1)" font-size="8.6" fill="#2c5ea6" stroke="#2c5ea6" stroke-width="0.22"><tspan font-style="italic">Cd79b</tspan></text>
<text transform="translate(188.90 370.00) scale(0.9036 1)" font-size="6.2" fill="#2c5ea6" stroke="#2c5ea6" stroke-width="0.22"><tspan>+/+</tspan></text>
<text transform="translate(200.00 373.30) scale(0.9226 1)" font-size="8.6" fill="#2c5ea6" stroke="#2c5ea6" stroke-width="0.22"><tspan>(control)</tspan></text>
<text transform="translate(266.70 344.80) scale(0.9618 1)" font-size="8.6" stroke="#222" stroke-width="0.22"><tspan>Tamoxifen</tspan></text>
<line x1="281.80" y1="348.30" x2="281.80" y2="356.20" stroke="#222" stroke-width="0.9" />
<path d="M279.90,354.30 L281.80,357.70 L283.70,354.30 Z" fill="#222"/>
<line x1="289.00" y1="348.30" x2="289.00" y2="356.20" stroke="#222" stroke-width="0.9" />
<path d="M287.10,354.30 L289.00,357.70 L290.90,354.30 Z" fill="#222"/>
<line x1="278.10" y1="360.90" x2="326.40" y2="360.90" stroke="#222" stroke-width="1.0" />
<path d="M324.30,358.90 L327.90,360.90 L324.30,362.90 Z" fill="#222"/>
<text transform="translate(276.40 370.30) scale(0.8990 1)" font-size="8.6" stroke="#222" stroke-width="0.22"><tspan>–2</tspan></text>
<text transform="translate(286.90 370.30) scale(0.7317 1)" font-size="8.6" stroke="#222" stroke-width="0.22"><tspan>0</tspan></text>
<text transform="translate(302.60 369.80) scale(0.8881 1)" font-size="8.6" stroke="#222" stroke-width="0.22"><tspan>Day 14</tspan></text>
<text transform="translate(330.60 358.80) scale(0.9484 1)" font-size="8.6" stroke="#222" stroke-width="0.22"><tspan>Flow cytometry:</tspan></text>
<text transform="translate(330.60 368.90) scale(0.9146 1)" font-size="8.6" stroke="#222" stroke-width="0.22"><tspan>Spleen (unimmunized)</tspan></text>
<circle cx="352.80" cy="384.80" r="1.35" fill="#0e4c8e"/>
<text transform="translate(356.90 387.20) scale(0.9090 1)" font-size="8.6" stroke="#222" stroke-width="0.22"><tspan>Control</tspan></text>
<circle cx="352.80" cy="394.60" r="1.35" fill="#1fae3f"/>
<text transform="translate(356.90 396.00) scale(0.9076 1)" font-size="8.6" fill="#2db246" stroke="#2db246" stroke-width="0.22"><tspan>Myd88/Cd79b</tspan></text>
<line x1="173.00" y1="384.00" x2="173.00" y2="455.60" stroke="#2a2a2a" stroke-width="1.3" />
<line x1="170.00" y1="387.00" x2="173.00" y2="387.00" stroke="#2a2a2a" stroke-width="1.2" />
<text transform="translate(167.80 389.90) scale(0.8990 1)" font-size="8.3" text-anchor="end" stroke="#222" stroke-width="0.22"><tspan>100</tspan></text>
<line x1="170.00" y1="400.60" x2="173.00" y2="400.60" stroke="#2a2a2a" stroke-width="1.2" />
<text transform="translate(167.80 403.50) scale(0.8990 1)" font-size="8.3" text-anchor="end" stroke="#222" stroke-width="0.22"><tspan>80</tspan></text>
<line x1="170.00" y1="414.20" x2="173.00" y2="414.20" stroke="#2a2a2a" stroke-width="1.2" />
<text transform="translate(167.80 417.10) scale(0.8990 1)" font-size="8.3" text-anchor="end" stroke="#222" stroke-width="0.22"><tspan>60</tspan></text>
<line x1="170.00" y1="427.80" x2="173.00" y2="427.80" stroke="#2a2a2a" stroke-width="1.2" />
<text transform="translate(167.80 430.70) scale(0.8990 1)" font-size="8.3" text-anchor="end" stroke="#222" stroke-width="0.22"><tspan>40</tspan></text>
<line x1="170.00" y1="441.40" x2="173.00" y2="441.40" stroke="#2a2a2a" stroke-width="1.2" />
<text transform="translate(167.80 444.30) scale(0.8990 1)" font-size="8.3" text-anchor="end" stroke="#222" stroke-width="0.22"><tspan>20</tspan></text>
<line x1="170.00" y1="455.00" x2="173.00" y2="455.00" stroke="#2a2a2a" stroke-width="1.2" />
<text transform="translate(167.80 457.90) scale(0.8990 1)" font-size="8.3" text-anchor="end" stroke="#222" stroke-width="0.22"><tspan>0</tspan></text>
<line x1="172.40" y1="455.00" x2="237.00" y2="455.00" stroke="#2a2a2a" stroke-width="1.2" />
<line x1="178.30" y1="455.00" x2="178.30" y2="458.00" stroke="#2a2a2a" stroke-width="1.2" />
<line x1="190.20" y1="455.00" x2="190.20" y2="458.00" stroke="#2a2a2a" stroke-width="1.2" />
<line x1="198.50" y1="455.00" x2="198.50" y2="458.00" stroke="#2a2a2a" stroke-width="1.2" />
<line x1="210.40" y1="455.00" x2="210.40" y2="458.00" stroke="#2a2a2a" stroke-width="1.2" />
<line x1="219.40" y1="455.00" x2="219.40" y2="458.00" stroke="#2a2a2a" stroke-width="1.2" />
<line x1="231.30" y1="455.00" x2="231.30" y2="458.00" stroke="#2a2a2a" stroke-width="1.2" />
<line x1="194.50" y1="387.50" x2="194.50" y2="455.00" stroke="#8a8a8a" stroke-width="1.2" />
<line x1="215.50" y1="387.50" x2="215.50" y2="455.00" stroke="#8a8a8a" stroke-width="1.2" />
<text transform="translate(148.80 421.40) rotate(-90) scale(0.7869 1)" font-size="9.8" text-anchor="middle" fill="#d3143c" stroke="#d3143c" stroke-width="0.22"><tspan>% tdTomato</tspan><tspan font-size="6.27" dy="-3.53">+</tspan></text>
<line x1="175.25" y1="432.50" x2="181.25" y2="432.50" stroke="#111" stroke-width="1.0" />
<circle cx="178.45" cy="422.50" r="1.5" fill="#0e4c8e"/>
<circle cx="177.95" cy="426.25" r="1.5" fill="#0e4c8e"/>
<circle cx="180.25" cy="427.50" r="1.5" fill="#0e4c8e"/>
<circle cx="178.15" cy="428.75" r="1.5" fill="#0e4c8e"/>
<circle cx="178.50" cy="431.25" r="1.5" fill="#0e4c8e"/>
<circle cx="178.05" cy="434.50" r="1.5" fill="#0e4c8e"/>
<circle cx="178.35" cy="440.50" r="1.5" fill="#0e4c8e"/>
<circle cx="176.85" cy="442.50" r="1.5" fill="#0e4c8e"/>
<line x1="187.00" y1="428.50" x2="193.00" y2="428.50" stroke="#111" stroke-width="1.0" />
<circle cx="190.20" cy="412.00" r="1.5" fill="#1fae3f"/>
<circle cx="189.70" cy="419.50" r="1.5" fill="#1fae3f"/>
<circle cx="192.00" cy="421.25" r="1.5" fill="#1fae3f"/>
<circle cx="189.90" cy="426.25" r="1.5" fill="#1fae3f"/>
<circle cx="190.25" cy="428.75" r="1.5" fill="#1fae3f"/>
<circle cx="189.80" cy="431.25" r="1.5" fill="#1fae3f"/>
<circle cx="190.10" cy="434.50" r="1.5" fill="#1fae3f"/>
<circle cx="188.60" cy="436.25" r="1.5" fill="#1fae3f"/>
<circle cx="191.45" cy="437.50" r="1.5" fill="#1fae3f"/>
<line x1="196.25" y1="443.50" x2="202.25" y2="443.50" stroke="#111" stroke-width="1.0" />
<circle cx="199.45" cy="429.50" r="1.5" fill="#0e4c8e"/>
<circle cx="197.25" cy="430.00" r="1.5" fill="#0e4c8e"/>
<circle cx="199.55" cy="436.25" r="1.5" fill="#0e4c8e"/>
<circle cx="199.15" cy="442.50" r="1.5" fill="#0e4c8e"/>
<circle cx="199.50" cy="447.50" r="1.5" fill="#0e4c8e"/>
<circle cx="197.35" cy="448.00" r="1.5" fill="#0e4c8e"/>
<circle cx="199.35" cy="455.00" r="1.5" fill="#0e4c8e"/>
<line x1="207.50" y1="418.50" x2="213.50" y2="418.50" stroke="#111" stroke-width="1.0" />
<circle cx="210.70" cy="400.00" r="1.5" fill="#1fae3f"/>
<circle cx="210.20" cy="405.50" r="1.5" fill="#1fae3f"/>
<circle cx="209.10" cy="407.50" r="1.5" fill="#1fae3f"/>
<circle cx="210.40" cy="410.00" r="1.5" fill="#1fae3f"/>
<circle cx="210.75" cy="415.00" r="1.5" fill="#1fae3f"/>
<circle cx="210.30" cy="431.25" r="1.5" fill="#1fae3f"/>
<circle cx="210.60" cy="440.00" r="1.5" fill="#1fae3f"/>
<circle cx="210.80" cy="443.75" r="1.5" fill="#1fae3f"/>
<line x1="216.50" y1="452.50" x2="222.50" y2="452.50" stroke="#111" stroke-width="1.0" />
<circle cx="219.70" cy="445.00" r="1.5" fill="#0e4c8e"/>
<circle cx="219.20" cy="452.00" r="1.5" fill="#0e4c8e"/>
<circle cx="221.50" cy="452.50" r="1.5" fill="#0e4c8e"/>
<circle cx="217.70" cy="453.75" r="1.5" fill="#0e4c8e"/>
<circle cx="219.75" cy="454.50" r="1.5" fill="#0e4c8e"/>
<line x1="228.25" y1="440.50" x2="234.25" y2="440.50" stroke="#111" stroke-width="1.0" />
<circle cx="231.45" cy="427.00" r="1.5" fill="#1fae3f"/>
<circle cx="230.95" cy="431.25" r="1.5" fill="#1fae3f"/>
<circle cx="233.25" cy="433.00" r="1.5" fill="#1fae3f"/>
<circle cx="231.15" cy="440.50" r="1.5" fill="#1fae3f"/>
<circle cx="231.50" cy="450.00" r="1.5" fill="#1fae3f"/>
<circle cx="231.05" cy="454.50" r="1.5" fill="#1fae3f"/>
<text transform="translate(175.75 467.30) scale(0.9313 1)" font-size="8.3" stroke="#222" stroke-width="0.22"><tspan>GCB</tspan></text>
<text transform="translate(200.00 467.30) scale(0.8580 1)" font-size="8.3" stroke="#222" stroke-width="0.22"><tspan>PB</tspan></text>
<text transform="translate(220.50 467.30) scale(0.8673 1)" font-size="8.3" stroke="#222" stroke-width="0.22"><tspan>PC</tspan></text>
<line x1="177.82" y1="470.60" x2="231.88" y2="470.60" stroke="#707070" stroke-width="1.6" />
<text transform="translate(196.00 481.00) scale(0.9484 1)" font-size="9.3" stroke="#222" stroke-width="0.22"><tspan>IgM</tspan><tspan font-size="5.95" dy="-3.35">+</tspan></text>
<line x1="200.00" y1="390.75" x2="212.50" y2="390.75" stroke="#3a3a3a" stroke-width="1.2" />
<path d="M204.53,387.15L204.53,386.05M204.53,387.15L205.57,386.81M204.53,387.15L205.17,388.04M204.53,387.15L203.88,388.04M204.53,387.15L203.48,386.81" stroke="#222" stroke-width="0.75" stroke-linecap="round" fill="none"/><circle cx="204.53" cy="387.15" r="0.85" fill="#1a1a1a"/>
<path d="M207.97,387.15L207.97,386.05M207.97,387.15L209.02,386.81M207.97,387.15L208.62,388.04M207.97,387.15L207.33,388.04M207.97,387.15L206.93,386.81" stroke="#222" stroke-width="0.75" stroke-linecap="round" fill="none"/><circle cx="207.97" cy="387.15" r="0.85" fill="#1a1a1a"/>
<line x1="222.00" y1="420.75" x2="234.50" y2="420.75" stroke="#3a3a3a" stroke-width="1.2" />
<path d="M226.53,417.15L226.53,416.05M226.53,417.15L227.57,416.81M226.53,417.15L227.17,418.04M226.53,417.15L225.88,418.04M226.53,417.15L225.48,416.81" stroke="#222" stroke-width="0.75" stroke-linecap="round" fill="none"/><circle cx="226.53" cy="417.15" r="0.85" fill="#1a1a1a"/>
<path d="M229.97,417.15L229.97,416.05M229.97,417.15L231.02,416.81M229.97,417.15L230.62,418.04M229.97,417.15L229.33,418.04M229.97,417.15L228.93,416.81" stroke="#222" stroke-width="0.75" stroke-linecap="round" fill="none"/><circle cx="229.97" cy="417.15" r="0.85" fill="#1a1a1a"/>
<line x1="285.80" y1="384.00" x2="285.80" y2="455.60" stroke="#2a2a2a" stroke-width="1.3" />
<line x1="282.80" y1="387.00" x2="285.80" y2="387.00" stroke="#2a2a2a" stroke-width="1.2" />
<text transform="translate(280.60 389.90) scale(0.8990 1)" font-size="8.3" text-anchor="end" stroke="#222" stroke-width="0.22"><tspan>100</tspan></text>
<line x1="282.80" y1="400.60" x2="285.80" y2="400.60" stroke="#2a2a2a" stroke-width="1.2" />
<text transform="translate(280.60 403.50) scale(0.8990 1)" font-size="8.3" text-anchor="end" stroke="#222" stroke-width="0.22"><tspan>80</tspan></text>
<line x1="282.80" y1="414.20" x2="285.80" y2="414.20" stroke="#2a2a2a" stroke-width="1.2" />
<text transform="translate(280.60 417.10) scale(0.8990 1)" font-size="8.3" text-anchor="end" stroke="#222" stroke-width="0.22"><tspan>60</tspan></text>
<line x1="282.80" y1="427.80" x2="285.80" y2="427.80" stroke="#2a2a2a" stroke-width="1.2" />
<text transform="translate(280.60 430.70) scale(0.8990 1)" font-size="8.3" text-anchor="end" stroke="#222" stroke-width="0.22"><tspan>40</tspan></text>
<line x1="282.80" y1="441.40" x2="285.80" y2="441.40" stroke="#2a2a2a" stroke-width="1.2" />
<text transform="translate(280.60 444.30) scale(0.8990 1)" font-size="8.3" text-anchor="end" stroke="#222" stroke-width="0.22"><tspan>20</tspan></text>
<line x1="282.80" y1="455.00" x2="285.80" y2="455.00" stroke="#2a2a2a" stroke-width="1.2" />
<text transform="translate(280.60 457.90) scale(0.8990 1)" font-size="8.3" text-anchor="end" stroke="#222" stroke-width="0.22"><tspan>0</tspan></text>
<line x1="285.20" y1="455.00" x2="350.40" y2="455.00" stroke="#2a2a2a" stroke-width="1.2" />
<line x1="291.80" y1="455.00" x2="291.80" y2="458.00" stroke="#2a2a2a" stroke-width="1.2" />
<line x1="303.20" y1="455.00" x2="303.20" y2="458.00" stroke="#2a2a2a" stroke-width="1.2" />
<line x1="312.00" y1="455.00" x2="312.00" y2="458.00" stroke="#2a2a2a" stroke-width="1.2" />
<line x1="324.20" y1="455.00" x2="324.20" y2="458.00" stroke="#2a2a2a" stroke-width="1.2" />
<line x1="332.50" y1="455.00" x2="332.50" y2="458.00" stroke="#2a2a2a" stroke-width="1.2" />
<line x1="344.60" y1="455.00" x2="344.60" y2="458.00" stroke="#2a2a2a" stroke-width="1.2" />
<line x1="307.70" y1="387.50" x2="307.70" y2="455.00" stroke="#8a8a8a" stroke-width="1.2" />
<line x1="328.30" y1="387.50" x2="328.30" y2="455.00" stroke="#8a8a8a" stroke-width="1.2" />
<text transform="translate(260.60 421.40) rotate(-90) scale(0.7869 1)" font-size="9.8" text-anchor="middle" fill="#d3143c" stroke="#d3143c" stroke-width="0.22"><tspan>% tdTomato</tspan><tspan font-size="6.27" dy="-3.53">+</tspan></text>
<line x1="288.30" y1="414.50" x2="294.30" y2="414.50" stroke="#111" stroke-width="1.0" />
<circle cx="291.50" cy="400.50" r="1.5" fill="#0e4c8e"/>
<circle cx="291.00" cy="403.80" r="1.5" fill="#0e4c8e"/>
<circle cx="293.30" cy="405.00" r="1.5" fill="#0e4c8e"/>
<circle cx="291.20" cy="407.70" r="1.5" fill="#0e4c8e"/>
<circle cx="291.55" cy="415.90" r="1.5" fill="#0e4c8e"/>
<circle cx="291.10" cy="420.80" r="1.5" fill="#0e4c8e"/>
<circle cx="291.40" cy="426.30" r="1.5" fill="#0e4c8e"/>
<circle cx="291.60" cy="433.20" r="1.5" fill="#0e4c8e"/>
<line x1="300.10" y1="416.50" x2="306.10" y2="416.50" stroke="#111" stroke-width="1.0" />
<circle cx="303.30" cy="403.80" r="1.5" fill="#1fae3f"/>
<circle cx="302.80" cy="411.00" r="1.5" fill="#1fae3f"/>
<circle cx="303.40" cy="413.60" r="1.5" fill="#1fae3f"/>
<circle cx="303.00" cy="415.90" r="1.5" fill="#1fae3f"/>
<circle cx="305.05" cy="417.50" r="1.5" fill="#1fae3f"/>
<circle cx="302.90" cy="419.10" r="1.5" fill="#1fae3f"/>
<circle cx="303.20" cy="432.20" r="1.5" fill="#1fae3f"/>
<circle cx="303.40" cy="435.50" r="1.5" fill="#1fae3f"/>
<line x1="309.60" y1="420.50" x2="315.60" y2="420.50" stroke="#111" stroke-width="1.0" />
<circle cx="312.80" cy="406.70" r="1.5" fill="#0e4c8e"/>
<circle cx="312.30" cy="415.90" r="1.5" fill="#0e4c8e"/>
<circle cx="314.60" cy="417.50" r="1.5" fill="#0e4c8e"/>
<circle cx="312.50" cy="419.10" r="1.5" fill="#0e4c8e"/>
<circle cx="311.15" cy="420.80" r="1.5" fill="#0e4c8e"/>
<circle cx="312.40" cy="423.40" r="1.5" fill="#0e4c8e"/>
<circle cx="312.70" cy="427.30" r="1.5" fill="#0e4c8e"/>
<line x1="321.30" y1="421.50" x2="327.30" y2="421.50" stroke="#111" stroke-width="1.0" />
<circle cx="324.50" cy="407.00" r="1.5" fill="#1fae3f"/>
<circle cx="324.00" cy="409.30" r="1.5" fill="#1fae3f"/>
<circle cx="324.60" cy="420.10" r="1.5" fill="#1fae3f"/>
<circle cx="324.20" cy="422.40" r="1.5" fill="#1fae3f"/>
<circle cx="324.55" cy="425.70" r="1.5" fill="#1fae3f"/>
<circle cx="324.10" cy="428.00" r="1.5" fill="#1fae3f"/>
<circle cx="322.70" cy="430.00" r="1.5" fill="#1fae3f"/>
<line x1="330.20" y1="437.50" x2="336.20" y2="437.50" stroke="#111" stroke-width="1.0" />
<circle cx="333.40" cy="434.80" r="1.5" fill="#0e4c8e"/>
<circle cx="331.20" cy="436.50" r="1.5" fill="#0e4c8e"/>
<circle cx="333.50" cy="438.70" r="1.5" fill="#0e4c8e"/>
<circle cx="333.10" cy="442.00" r="1.5" fill="#0e4c8e"/>
<circle cx="333.45" cy="444.60" r="1.5" fill="#0e4c8e"/>
<line x1="341.60" y1="437.50" x2="347.60" y2="437.50" stroke="#111" stroke-width="1.0" />
<circle cx="344.80" cy="432.20" r="1.5" fill="#1fae3f"/>
<circle cx="344.30" cy="434.50" r="1.5" fill="#1fae3f"/>
<circle cx="344.90" cy="437.10" r="1.5" fill="#1fae3f"/>
<circle cx="342.80" cy="438.70" r="1.5" fill="#1fae3f"/>
<circle cx="344.85" cy="440.40" r="1.5" fill="#1fae3f"/>
<circle cx="344.40" cy="443.60" r="1.5" fill="#1fae3f"/>
<circle cx="344.70" cy="446.30" r="1.5" fill="#1fae3f"/>
<text transform="translate(289.70 467.30) scale(0.8729 1)" font-size="8.3" stroke="#222" stroke-width="0.22"><tspan>GCB</tspan></text>
<text transform="translate(313.60 467.30) scale(0.7947 1)" font-size="8.3" stroke="#222" stroke-width="0.22"><tspan>PB</tspan></text>
<text transform="translate(333.80 467.30) scale(0.8846 1)" font-size="8.3" stroke="#222" stroke-width="0.22"><tspan>PC</tspan></text>
<line x1="290.90" y1="470.60" x2="345.40" y2="470.60" stroke="#707070" stroke-width="1.6" />
<text transform="translate(310.20 482.20) scale(0.8398 1)" font-size="9.3" stroke="#222" stroke-width="0.22"><tspan>IgM</tspan><tspan font-size="5.95" dy="-3.35">–</tspan></text>
</svg>
</body></html>
